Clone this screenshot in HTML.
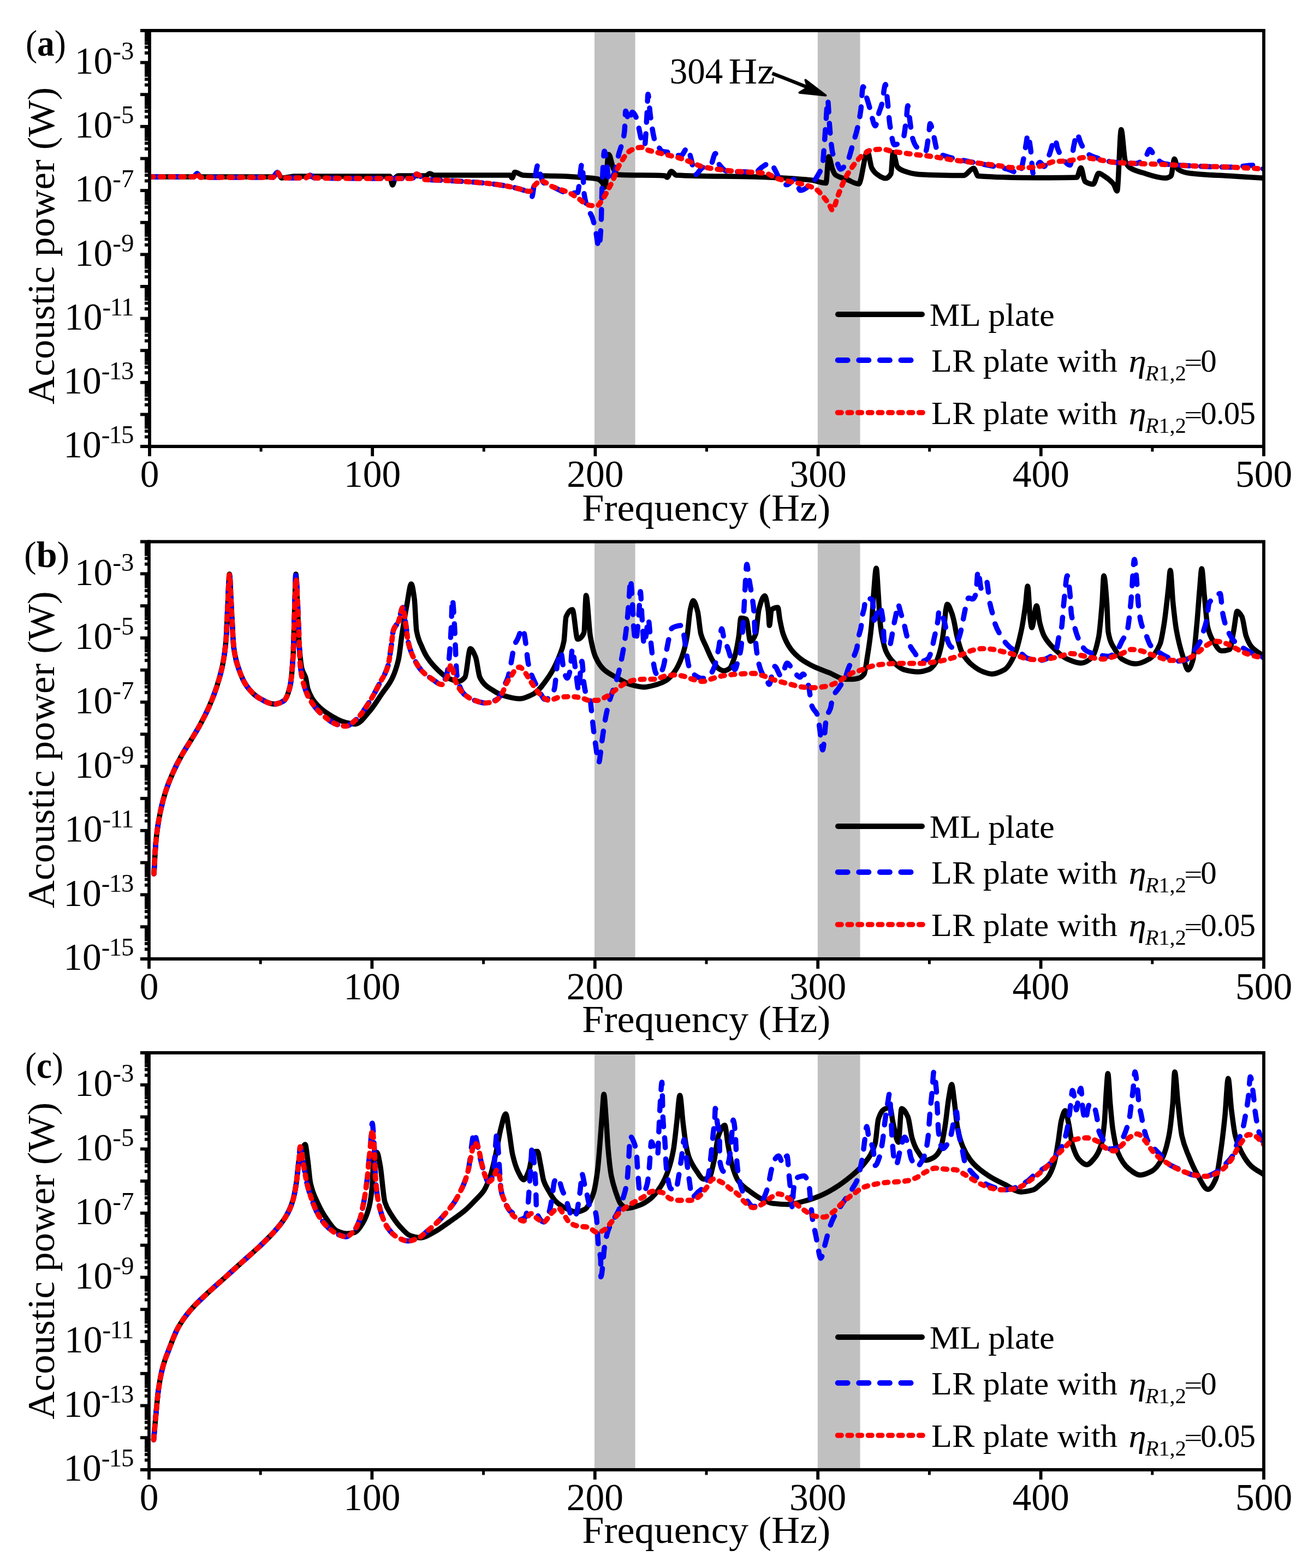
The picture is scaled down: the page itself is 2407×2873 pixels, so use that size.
<!DOCTYPE html><html><head><meta charset="utf-8"><title>Acoustic power</title><style>html,body{margin:0;padding:0;background:#fff;}body{width:2407px;height:2873px;overflow:hidden}svg{display:block}</style></head><body>
<svg width="2407" height="2873" viewBox="0 0 2407 2873" font-family="'Liberation Serif', serif">
<rect width="2407" height="2873" fill="#fff"/>
<defs><clipPath id="cpa"><rect x="274.0" y="56.0" width="2041.0" height="762.0"/></clipPath></defs>
<rect x="1089.0" y="56.0" width="74.6" height="762.0" fill="#c0c0c0"/>
<rect x="1497.8" y="56.0" width="77.8" height="762.0" fill="#c0c0c0"/>
<g clip-path="url(#cpa)" fill="none" stroke-linejoin="round">
<path d="M274.0,324.0 C301.0,324.0 328.0,324.0 355.0,324.0 C357.0,324.0 359.0,318.0 361.0,318.0 C363.0,318.0 365.0,324.0 367.0,324.0 C411.3,324.0 455.7,324.0 500.0,324.0 C502.7,324.0 505.3,316.0 508.0,316.0 C510.7,316.0 513.3,326.0 516.0,326.0 C519.0,326.0 522.0,325.4 525.0,325.0 C530.0,324.4 535.0,323.0 540.0,323.0 C598.0,323.0 656.0,323.0 714.0,323.0 C715.7,323.0 717.3,339.0 719.0,339.0 C720.7,339.0 722.3,327.8 724.0,326.0 C726.0,323.8 728.0,322.0 730.0,322.0 C746.7,322.0 763.3,322.0 780.0,322.0 C782.3,322.0 784.7,318.0 787.0,318.0 C789.7,318.0 792.3,321.0 795.0,321.0 C841.3,321.0 887.7,321.0 934.0,321.0 C935.3,321.0 936.7,326.0 938.0,326.0 C939.7,326.0 941.3,315.6 943.0,315.6 C948.0,315.6 953.0,320.7 958.0,321.0 C983.7,322.5 1009.3,322.0 1035.0,323.0 C1044.7,323.4 1054.3,324.2 1064.0,325.0 C1074.3,325.8 1084.7,325.9 1095.0,328.0 C1097.7,328.5 1100.3,331.1 1103.0,334.0 C1104.7,335.8 1106.3,343.0 1108.0,343.0 C1110.3,343.0 1112.7,283.0 1115.0,283.0 C1118.0,283.0 1121.0,304.7 1124.0,310.0 C1126.7,314.7 1129.3,319.8 1132.0,320.0 C1160.7,321.8 1189.3,320.2 1218.0,322.0 C1219.3,322.1 1220.7,325.0 1222.0,325.0 C1224.6,325.0 1227.1,314.0 1229.7,314.0 C1232.8,314.0 1235.9,320.8 1239.0,321.0 C1287.3,323.7 1335.7,322.5 1384.0,324.0 C1418.0,325.1 1452.0,326.5 1486.0,330.0 C1495.0,330.9 1504.0,335.5 1513.0,335.5 C1514.7,335.5 1516.3,287.0 1518.0,287.0 C1520.3,287.0 1522.7,304.3 1525.0,310.0 C1526.7,314.1 1528.3,318.7 1530.0,320.0 C1537.3,325.8 1544.7,326.1 1552.0,329.0 C1559.0,331.8 1566.0,337.0 1573.0,337.0 C1578.3,337.0 1583.7,277.6 1589.0,277.6 C1591.7,277.6 1594.3,303.0 1597.0,308.0 C1599.8,313.3 1602.7,316.4 1605.5,318.5 C1611.0,322.6 1616.5,326.7 1622.0,326.7 C1625.3,326.7 1628.7,324.2 1632.0,318.5 C1633.3,316.2 1634.7,279.6 1636.0,279.6 C1638.7,279.6 1641.3,303.0 1644.0,306.0 C1647.7,310.1 1651.3,311.7 1655.0,313.0 C1664.3,316.4 1673.7,319.0 1683.0,319.5 C1710.3,321.0 1737.7,321.6 1765.0,321.6 C1771.2,321.6 1777.4,308.3 1783.6,308.3 C1786.3,308.3 1789.0,322.4 1791.7,322.6 C1827.8,325.4 1863.9,325.7 1900.0,325.7 C1924.2,325.7 1948.3,325.6 1972.5,325.0 C1975.0,324.9 1977.5,307.5 1980.0,307.5 C1982.5,307.5 1985.0,330.8 1987.5,332.5 C1992.5,335.8 1997.5,337.5 2002.5,337.5 C2005.8,337.5 2009.2,317.5 2012.5,317.5 C2015.8,317.5 2019.2,320.4 2022.5,322.5 C2028.3,326.1 2034.2,330.1 2040.0,337.5 C2042.1,340.2 2044.2,350.0 2046.3,350.0 C2048.8,350.0 2051.3,237.5 2053.8,237.5 C2056.3,237.5 2058.8,288.8 2061.3,295.0 C2064.2,302.1 2067.1,305.6 2070.0,307.5 C2077.5,312.5 2085.0,314.0 2092.5,316.3 C2106.7,320.6 2120.8,326.3 2135.0,326.3 C2138.3,326.3 2141.7,325.0 2145.0,322.5 C2147.1,320.9 2149.2,291.3 2151.3,291.3 C2153.4,291.3 2155.4,308.5 2157.5,310.0 C2165.0,315.3 2172.5,316.6 2180.0,317.5 C2205.0,320.7 2230.0,320.9 2255.0,322.5 C2275.0,323.8 2295.0,325.0 2315.0,326.3" stroke="#000" stroke-width="9.5" stroke-linecap="round"/>
<path d="M274.0,324.0 C301.0,324.0 328.0,324.0 355.0,324.0 C357.0,324.0 359.0,318.0 361.0,318.0 C363.0,318.0 365.0,325.0 367.0,325.0 C411.3,325.0 455.7,325.0 500.0,325.0 C502.7,325.0 505.3,316.0 508.0,316.0 C510.7,316.0 513.3,326.0 516.0,326.0 C530.7,326.0 545.3,326.0 560.0,326.0 C562.7,326.0 565.3,321.0 568.0,321.0 C570.7,321.0 573.3,325.9 576.0,326.0 C617.3,326.9 658.7,327.0 700.0,327.0 C718.3,327.0 736.7,327.0 755.0,327.0 C757.7,327.0 760.3,319.0 763.0,319.0 C768.3,319.0 773.7,328.6 779.0,329.0 C787.0,329.7 795.0,329.6 803.0,330.0 C825.7,331.1 848.3,332.2 871.0,334.0 C887.3,335.3 903.7,337.0 920.0,339.5 C931.2,341.2 942.5,343.4 953.7,346.7 C957.8,347.9 961.9,349.1 966.0,351.6 C968.7,353.3 971.4,361.0 974.1,361.0 C976.2,361.0 978.2,334.6 980.3,324.2 C982.0,315.6 983.7,301.7 985.4,301.7 C986.9,301.7 988.5,314.9 990.0,320.0 C991.7,325.5 993.3,332.5 995.0,334.0 C1000.3,338.9 1005.7,339.3 1011.0,341.6 C1021.9,346.2 1032.8,353.9 1043.7,353.9 C1048.5,353.9 1053.2,353.6 1058.0,352.9 C1060.7,352.5 1063.5,299.6 1066.2,299.6 C1067.6,299.6 1068.9,348.2 1070.3,357.0 C1072.4,370.2 1074.4,375.9 1076.5,381.5 C1079.2,388.9 1082.0,390.7 1084.7,397.9 C1086.7,403.3 1088.8,411.6 1090.8,420.4 C1092.9,429.4 1094.9,453.1 1097.0,453.1 C1098.3,453.1 1099.7,436.1 1101.0,414.2 C1101.7,403.2 1102.3,355.6 1103.0,340.6 C1104.4,309.0 1105.8,277.1 1107.2,277.1 C1108.6,277.1 1109.9,289.0 1111.3,297.6 C1112.7,306.2 1114.0,332.4 1115.4,332.4 C1118.8,332.4 1122.2,324.1 1125.6,316.0 C1128.3,309.5 1131.1,291.3 1133.8,281.2 C1135.9,273.6 1137.9,269.1 1140.0,260.7 C1141.3,255.3 1142.7,251.7 1144.0,240.3 C1144.7,234.6 1145.3,203.4 1146.0,203.4 C1148.1,203.4 1150.1,221.9 1152.2,221.9 C1154.3,221.9 1156.3,205.5 1158.4,205.5 C1161.1,205.5 1163.8,211.3 1166.5,217.8 C1167.9,221.1 1169.2,230.1 1170.6,236.2 C1172.0,242.3 1173.3,250.7 1174.7,254.6 C1176.7,260.4 1178.8,266.9 1180.8,266.9 C1182.2,266.9 1183.6,234.1 1185.0,211.6 C1185.7,200.9 1186.3,172.7 1187.0,172.7 C1188.4,172.7 1189.7,199.3 1191.1,209.6 C1193.1,224.9 1195.2,238.7 1197.2,248.5 C1198.6,255.1 1199.9,262.5 1201.3,264.8 C1203.4,268.2 1205.4,268.7 1207.5,271.0 C1209.1,272.8 1210.7,276.6 1212.3,277.1 C1217.1,278.5 1221.8,278.3 1226.6,279.2 C1233.4,280.5 1240.3,285.3 1247.1,285.3 C1251.2,285.3 1255.3,271.0 1259.4,271.0 C1261.4,271.0 1263.5,282.6 1265.5,289.4 C1268.2,298.5 1271.0,320.1 1273.7,320.1 C1277.8,320.1 1281.9,310.1 1286.0,307.8 C1291.4,304.8 1296.9,305.6 1302.3,301.7 C1305.0,299.8 1307.8,281.2 1310.5,281.2 C1312.9,281.2 1315.3,298.5 1317.7,301.7 C1322.8,308.6 1327.9,313.8 1333.0,314.0 C1350.1,314.8 1367.1,315.0 1384.2,315.0 C1388.3,315.0 1392.4,308.3 1396.5,305.8 C1401.3,302.9 1406.0,298.6 1410.8,298.6 C1414.2,298.6 1417.6,308.1 1421.0,314.0 C1423.7,318.7 1426.5,327.5 1429.2,330.3 C1433.3,334.5 1437.4,338.5 1441.5,338.5 C1446.3,338.5 1451.0,328.3 1455.8,328.3 C1459.2,328.3 1462.7,348.8 1466.1,348.8 C1472.9,348.8 1479.7,342.3 1486.5,336.5 C1490.6,333.0 1494.7,327.4 1498.8,320.1 C1501.5,315.2 1504.3,312.1 1507.0,299.6 C1508.0,294.9 1509.1,275.9 1510.1,262.8 C1511.1,250.1 1512.1,235.0 1513.1,221.9 C1514.1,208.4 1515.2,183.0 1516.2,183.0 C1517.2,183.0 1518.3,213.2 1519.3,226.0 C1520.3,238.8 1521.4,252.1 1522.4,260.8 C1523.4,269.3 1524.4,277.9 1525.4,281.2 C1527.5,288.0 1529.5,289.4 1531.6,293.5 C1534.3,298.9 1537.0,309.9 1539.7,309.9 C1543.9,309.9 1548.1,303.0 1552.3,296.0 C1555.7,290.3 1559.1,274.7 1562.5,263.3 C1565.2,254.1 1568.0,246.3 1570.7,234.6 C1572.7,225.9 1574.8,216.6 1576.8,201.9 C1578.2,192.0 1579.5,158.9 1580.9,158.9 C1583.0,158.9 1585.0,170.8 1587.1,177.3 C1589.1,183.7 1591.2,191.1 1593.2,197.8 C1596.6,209.0 1600.0,230.5 1603.4,230.5 C1605.5,230.5 1607.5,214.8 1609.6,208.0 C1611.6,201.3 1613.7,197.6 1615.7,189.6 C1617.8,181.5 1619.8,154.8 1621.9,154.8 C1623.3,154.8 1624.6,175.4 1626.0,187.5 C1627.4,199.6 1628.7,219.6 1630.1,228.5 C1632.8,246.1 1635.5,265.3 1638.2,265.3 C1643.7,265.3 1649.1,261.4 1654.6,253.0 C1656.7,249.8 1658.7,228.4 1660.8,212.1 C1661.5,206.8 1662.1,193.7 1662.8,193.7 C1664.2,193.7 1665.5,212.8 1666.9,222.3 C1668.3,231.8 1669.6,246.1 1671.0,251.0 C1673.7,260.9 1676.5,267.0 1679.2,269.4 C1684.6,274.2 1690.1,277.6 1695.5,277.6 C1697.6,277.6 1699.6,257.0 1701.7,242.8 C1702.4,238.2 1703.0,226.4 1703.7,226.4 C1705.8,226.4 1707.8,239.5 1709.9,246.9 C1712.6,256.7 1715.4,277.2 1718.1,279.6 C1723.5,284.3 1729.0,285.1 1734.4,286.8 C1751.5,292.1 1768.5,294.5 1785.6,298.1 C1806.1,302.4 1826.5,304.9 1847.0,310.3 C1853.8,312.1 1860.7,317.5 1867.5,317.5 C1870.2,317.5 1872.9,300.4 1875.6,287.8 C1877.0,281.4 1878.3,270.9 1879.7,263.3 C1880.7,257.5 1881.8,246.9 1882.8,246.9 C1884.5,246.9 1886.2,262.0 1887.9,273.5 C1889.4,283.9 1891.0,317.5 1892.5,317.5 C1896.7,317.5 1900.8,297.5 1905.0,297.5 C1907.5,297.5 1910.0,305.0 1912.5,305.0 C1915.8,305.0 1919.2,290.8 1922.5,282.5 C1925.8,274.2 1929.2,255.0 1932.5,255.0 C1934.2,255.0 1935.8,268.2 1937.5,272.5 C1940.0,279.0 1942.5,284.0 1945.0,287.5 C1950.0,294.4 1955.0,302.5 1960.0,302.5 C1962.5,302.5 1965.0,276.0 1967.5,265.0 C1969.2,257.6 1970.8,245.0 1972.5,245.0 C1975.0,245.0 1977.5,257.5 1980.0,262.5 C1983.3,269.2 1986.7,277.3 1990.0,280.0 C1995.8,284.8 2001.7,286.8 2007.5,288.8 C2019.2,292.8 2030.8,296.5 2042.5,297.5 C2055.0,298.6 2067.5,299.5 2080.0,299.5 C2085.8,299.5 2091.7,295.2 2097.5,290.0 C2100.4,287.4 2103.4,273.8 2106.3,273.8 C2109.2,273.8 2112.1,283.3 2115.0,286.3 C2120.8,292.4 2126.7,299.0 2132.5,300.0 C2148.3,302.6 2164.2,303.0 2180.0,303.8 C2205.0,305.0 2230.0,306.3 2255.0,306.3 C2270.0,306.3 2285.0,302.5 2300.0,302.5 C2305.0,302.5 2310.0,307.5 2315.0,310.0" stroke="#0000ff" stroke-width="9.5" stroke-linecap="round" stroke-dasharray="18 20.6"/>
<path d="M274.0,324.0 C301.0,324.0 328.0,324.0 355.0,324.0 C357.0,324.0 359.0,318.0 361.0,318.0 C363.0,318.0 365.0,325.0 367.0,325.0 C411.3,325.0 455.7,325.0 500.0,325.0 C502.7,325.0 505.3,316.0 508.0,316.0 C510.7,316.0 513.3,326.0 516.0,326.0 C530.7,326.0 545.3,326.0 560.0,326.0 C562.7,326.0 565.3,321.0 568.0,321.0 C570.7,321.0 573.3,325.9 576.0,326.0 C617.3,326.9 658.7,327.0 700.0,327.0 C718.3,327.0 736.7,327.0 755.0,327.0 C757.7,327.0 760.3,319.0 763.0,319.0 C768.3,319.0 773.7,328.6 779.0,329.0 C787.0,329.7 795.0,329.6 803.0,330.0 C825.7,331.1 848.3,332.2 871.0,334.0 C887.3,335.3 903.7,337.0 920.0,339.5 C931.2,341.2 942.5,344.1 953.7,346.7 C959.1,348.0 964.6,350.8 970.0,350.8 C973.4,350.8 976.9,341.5 980.3,338.5 C983.7,335.5 987.1,331.4 990.5,331.4 C997.3,331.4 1004.2,338.6 1011.0,341.6 C1021.9,346.3 1032.8,348.6 1043.7,353.9 C1049.2,356.5 1054.6,360.5 1060.1,364.1 C1065.6,367.7 1071.0,374.3 1076.5,375.4 C1082.0,376.5 1087.4,377.4 1092.9,377.4 C1097.0,377.4 1101.0,368.9 1105.1,363.1 C1108.5,358.2 1112.0,351.2 1115.4,344.7 C1118.1,339.5 1120.9,334.4 1123.6,328.3 C1126.3,322.3 1129.0,313.4 1131.7,307.8 C1134.4,302.2 1137.2,297.7 1139.9,293.5 C1143.3,288.2 1146.8,281.8 1150.2,279.2 C1155.6,275.0 1161.1,272.0 1166.5,271.0 C1169.2,270.5 1172.0,270.0 1174.7,270.0 C1178.8,270.0 1182.9,273.8 1187.0,275.1 C1192.5,276.8 1197.9,277.8 1203.4,279.2 C1208.8,280.6 1214.3,282.0 1219.7,283.3 C1226.8,285.0 1233.9,286.4 1241.0,288.4 C1247.8,290.3 1254.6,293.0 1261.4,295.5 C1270.3,298.7 1279.1,303.7 1288.0,305.8 C1296.2,307.7 1304.4,308.8 1312.6,309.9 C1324.2,311.5 1335.8,313.1 1347.4,314.0 C1359.7,314.9 1371.9,315.1 1384.2,316.0 C1391.0,316.5 1397.9,316.9 1404.7,318.1 C1410.1,319.0 1415.6,324.3 1421.0,326.2 C1429.2,329.0 1437.4,330.5 1445.6,332.4 C1455.1,334.6 1464.7,335.8 1474.2,338.5 C1481.0,340.4 1487.9,342.7 1494.7,346.7 C1498.8,349.1 1502.9,354.3 1507.0,359.0 C1511.1,363.7 1515.2,369.0 1519.3,375.4 C1521.0,378.1 1522.7,384.6 1524.4,384.6 C1528.1,384.6 1531.9,366.3 1535.6,357.0 C1538.3,350.2 1541.1,342.6 1543.8,336.5 C1546.5,330.4 1549.3,324.8 1552.0,320.1 C1554.7,315.5 1557.3,311.6 1560.0,307.8 C1562.9,303.6 1565.8,299.4 1568.7,296.0 C1572.8,291.3 1576.8,286.7 1580.9,283.7 C1586.4,279.7 1591.8,275.1 1597.3,274.5 C1603.4,273.9 1609.6,273.5 1615.7,273.5 C1622.5,273.5 1629.4,276.5 1636.2,277.6 C1648.5,279.6 1660.7,281.1 1673.0,282.7 C1684.6,284.2 1696.2,285.2 1707.8,286.8 C1720.1,288.5 1732.4,291.1 1744.7,292.9 C1758.3,294.9 1772.0,296.4 1785.6,298.1 C1799.2,299.8 1812.9,301.5 1826.5,303.2 C1837.4,304.6 1848.4,307.3 1859.3,307.3 C1865.4,307.3 1871.6,307.3 1877.7,307.3 C1883.5,307.3 1889.2,306.8 1895.0,306.3 C1900.8,305.8 1906.7,304.1 1912.5,302.5 C1918.3,300.9 1924.2,297.0 1930.0,296.3 C1936.7,295.6 1943.3,295.5 1950.0,295.0 C1954.2,294.7 1958.3,294.3 1962.5,293.8 C1970.0,292.8 1977.5,288.8 1985.0,288.8 C1991.7,288.8 1998.3,290.4 2005.0,291.3 C2017.5,293.1 2030.0,296.5 2042.5,297.5 C2055.0,298.5 2067.5,299.0 2080.0,299.5 C2096.7,300.2 2113.3,300.6 2130.0,301.3 C2146.7,302.0 2163.3,303.1 2180.0,303.8 C2205.0,304.8 2230.0,305.3 2255.0,306.3 C2275.0,307.1 2295.0,308.4 2315.0,309.5" stroke="#ff0000" stroke-width="9.6" stroke-linecap="round" stroke-dasharray="6.9 12"/>
</g>
<g stroke="#000" fill="none" stroke-width="5.8">
<line x1="257" y1="56.0" x2="2317.9" y2="56.0"/>
<line x1="2315.0" y1="56.0" x2="2315.0" y2="836.0"/>
<line x1="257" y1="818.0" x2="2315.0" y2="818.0"/>
<line x1="274.0" y1="53.1" x2="274.0" y2="836.0"/>
<line x1="257" y1="759.4" x2="274.0" y2="759.4"/>
<line x1="257" y1="700.8" x2="274.0" y2="700.8"/>
<line x1="257" y1="642.2" x2="274.0" y2="642.2"/>
<line x1="257" y1="583.5" x2="274.0" y2="583.5"/>
<line x1="257" y1="524.9" x2="274.0" y2="524.9"/>
<line x1="257" y1="466.3" x2="274.0" y2="466.3"/>
<line x1="257" y1="407.7" x2="274.0" y2="407.7"/>
<line x1="257" y1="349.1" x2="274.0" y2="349.1"/>
<line x1="257" y1="290.5" x2="274.0" y2="290.5"/>
<line x1="257" y1="231.8" x2="274.0" y2="231.8"/>
<line x1="257" y1="173.2" x2="274.0" y2="173.2"/>
<line x1="257" y1="114.6" x2="274.0" y2="114.6"/>
<line x1="265" y1="800.4" x2="274.0" y2="800.4"/>
<line x1="265" y1="790.0" x2="274.0" y2="790.0"/>
<line x1="265" y1="782.7" x2="274.0" y2="782.7"/>
<line x1="265" y1="777.0" x2="274.0" y2="777.0"/>
<line x1="265" y1="772.4" x2="274.0" y2="772.4"/>
<line x1="265" y1="768.5" x2="274.0" y2="768.5"/>
<line x1="265" y1="765.1" x2="274.0" y2="765.1"/>
<line x1="265" y1="762.1" x2="274.0" y2="762.1"/>
<line x1="265" y1="741.7" x2="274.0" y2="741.7"/>
<line x1="265" y1="731.4" x2="274.0" y2="731.4"/>
<line x1="265" y1="724.1" x2="274.0" y2="724.1"/>
<line x1="265" y1="718.4" x2="274.0" y2="718.4"/>
<line x1="265" y1="713.8" x2="274.0" y2="713.8"/>
<line x1="265" y1="709.8" x2="274.0" y2="709.8"/>
<line x1="265" y1="706.4" x2="274.0" y2="706.4"/>
<line x1="265" y1="703.5" x2="274.0" y2="703.5"/>
<line x1="265" y1="683.1" x2="274.0" y2="683.1"/>
<line x1="265" y1="672.8" x2="274.0" y2="672.8"/>
<line x1="265" y1="665.5" x2="274.0" y2="665.5"/>
<line x1="265" y1="659.8" x2="274.0" y2="659.8"/>
<line x1="265" y1="655.2" x2="274.0" y2="655.2"/>
<line x1="265" y1="651.2" x2="274.0" y2="651.2"/>
<line x1="265" y1="647.8" x2="274.0" y2="647.8"/>
<line x1="265" y1="644.8" x2="274.0" y2="644.8"/>
<line x1="265" y1="624.5" x2="274.0" y2="624.5"/>
<line x1="265" y1="614.2" x2="274.0" y2="614.2"/>
<line x1="265" y1="606.9" x2="274.0" y2="606.9"/>
<line x1="265" y1="601.2" x2="274.0" y2="601.2"/>
<line x1="265" y1="596.5" x2="274.0" y2="596.5"/>
<line x1="265" y1="592.6" x2="274.0" y2="592.6"/>
<line x1="265" y1="589.2" x2="274.0" y2="589.2"/>
<line x1="265" y1="586.2" x2="274.0" y2="586.2"/>
<line x1="265" y1="565.9" x2="274.0" y2="565.9"/>
<line x1="265" y1="555.6" x2="274.0" y2="555.6"/>
<line x1="265" y1="548.2" x2="274.0" y2="548.2"/>
<line x1="265" y1="542.6" x2="274.0" y2="542.6"/>
<line x1="265" y1="537.9" x2="274.0" y2="537.9"/>
<line x1="265" y1="534.0" x2="274.0" y2="534.0"/>
<line x1="265" y1="530.6" x2="274.0" y2="530.6"/>
<line x1="265" y1="527.6" x2="274.0" y2="527.6"/>
<line x1="265" y1="507.3" x2="274.0" y2="507.3"/>
<line x1="265" y1="497.0" x2="274.0" y2="497.0"/>
<line x1="265" y1="489.6" x2="274.0" y2="489.6"/>
<line x1="265" y1="484.0" x2="274.0" y2="484.0"/>
<line x1="265" y1="479.3" x2="274.0" y2="479.3"/>
<line x1="265" y1="475.4" x2="274.0" y2="475.4"/>
<line x1="265" y1="472.0" x2="274.0" y2="472.0"/>
<line x1="265" y1="469.0" x2="274.0" y2="469.0"/>
<line x1="265" y1="448.7" x2="274.0" y2="448.7"/>
<line x1="265" y1="438.3" x2="274.0" y2="438.3"/>
<line x1="265" y1="431.0" x2="274.0" y2="431.0"/>
<line x1="265" y1="425.3" x2="274.0" y2="425.3"/>
<line x1="265" y1="420.7" x2="274.0" y2="420.7"/>
<line x1="265" y1="416.8" x2="274.0" y2="416.8"/>
<line x1="265" y1="413.4" x2="274.0" y2="413.4"/>
<line x1="265" y1="410.4" x2="274.0" y2="410.4"/>
<line x1="265" y1="390.0" x2="274.0" y2="390.0"/>
<line x1="265" y1="379.7" x2="274.0" y2="379.7"/>
<line x1="265" y1="372.4" x2="274.0" y2="372.4"/>
<line x1="265" y1="366.7" x2="274.0" y2="366.7"/>
<line x1="265" y1="362.1" x2="274.0" y2="362.1"/>
<line x1="265" y1="358.2" x2="274.0" y2="358.2"/>
<line x1="265" y1="354.8" x2="274.0" y2="354.8"/>
<line x1="265" y1="351.8" x2="274.0" y2="351.8"/>
<line x1="265" y1="331.4" x2="274.0" y2="331.4"/>
<line x1="265" y1="321.1" x2="274.0" y2="321.1"/>
<line x1="265" y1="313.8" x2="274.0" y2="313.8"/>
<line x1="265" y1="308.1" x2="274.0" y2="308.1"/>
<line x1="265" y1="303.5" x2="274.0" y2="303.5"/>
<line x1="265" y1="299.5" x2="274.0" y2="299.5"/>
<line x1="265" y1="296.1" x2="274.0" y2="296.1"/>
<line x1="265" y1="293.1" x2="274.0" y2="293.1"/>
<line x1="265" y1="272.8" x2="274.0" y2="272.8"/>
<line x1="265" y1="262.5" x2="274.0" y2="262.5"/>
<line x1="265" y1="255.2" x2="274.0" y2="255.2"/>
<line x1="265" y1="249.5" x2="274.0" y2="249.5"/>
<line x1="265" y1="244.8" x2="274.0" y2="244.8"/>
<line x1="265" y1="240.9" x2="274.0" y2="240.9"/>
<line x1="265" y1="237.5" x2="274.0" y2="237.5"/>
<line x1="265" y1="234.5" x2="274.0" y2="234.5"/>
<line x1="265" y1="214.2" x2="274.0" y2="214.2"/>
<line x1="265" y1="203.9" x2="274.0" y2="203.9"/>
<line x1="265" y1="196.6" x2="274.0" y2="196.6"/>
<line x1="265" y1="190.9" x2="274.0" y2="190.9"/>
<line x1="265" y1="186.2" x2="274.0" y2="186.2"/>
<line x1="265" y1="182.3" x2="274.0" y2="182.3"/>
<line x1="265" y1="178.9" x2="274.0" y2="178.9"/>
<line x1="265" y1="175.9" x2="274.0" y2="175.9"/>
<line x1="265" y1="155.6" x2="274.0" y2="155.6"/>
<line x1="265" y1="145.3" x2="274.0" y2="145.3"/>
<line x1="265" y1="137.9" x2="274.0" y2="137.9"/>
<line x1="265" y1="132.3" x2="274.0" y2="132.3"/>
<line x1="265" y1="127.6" x2="274.0" y2="127.6"/>
<line x1="265" y1="123.7" x2="274.0" y2="123.7"/>
<line x1="265" y1="120.3" x2="274.0" y2="120.3"/>
<line x1="265" y1="117.3" x2="274.0" y2="117.3"/>
<line x1="265" y1="97.0" x2="274.0" y2="97.0"/>
<line x1="265" y1="86.6" x2="274.0" y2="86.6"/>
<line x1="265" y1="79.3" x2="274.0" y2="79.3"/>
<line x1="265" y1="73.6" x2="274.0" y2="73.6"/>
<line x1="265" y1="69.0" x2="274.0" y2="69.0"/>
<line x1="265" y1="65.1" x2="274.0" y2="65.1"/>
<line x1="265" y1="61.7" x2="274.0" y2="61.7"/>
<line x1="265" y1="58.7" x2="274.0" y2="58.7"/>
<line x1="682.2" y1="818.0" x2="682.2" y2="836.0"/>
<line x1="1090.4" y1="818.0" x2="1090.4" y2="836.0"/>
<line x1="1498.6" y1="818.0" x2="1498.6" y2="836.0"/>
<line x1="1906.8" y1="818.0" x2="1906.8" y2="836.0"/>
<line x1="478.1" y1="818.0" x2="478.1" y2="827.5" stroke-width="5"/>
<line x1="886.3" y1="818.0" x2="886.3" y2="827.5" stroke-width="5"/>
<line x1="1294.5" y1="818.0" x2="1294.5" y2="827.5" stroke-width="5"/>
<line x1="1702.7" y1="818.0" x2="1702.7" y2="827.5" stroke-width="5"/>
<line x1="2110.9" y1="818.0" x2="2110.9" y2="827.5" stroke-width="5"/>
</g>
<text x="245.5" y="134.9" text-anchor="end" font-size="69.5">10<tspan font-size="47" dy="-26">-3</tspan></text>
<text x="245.5" y="252.1" text-anchor="end" font-size="69.5">10<tspan font-size="47" dy="-26">-5</tspan></text>
<text x="245.5" y="369.4" text-anchor="end" font-size="69.5">10<tspan font-size="47" dy="-26">-7</tspan></text>
<text x="245.5" y="486.6" text-anchor="end" font-size="69.5">10<tspan font-size="47" dy="-26">-9</tspan></text>
<text x="245.5" y="603.8" text-anchor="end" font-size="69.5">10<tspan font-size="47" dy="-26">-</tspan><tspan font-size="47" dx="-1.8">1</tspan><tspan font-size="47" dx="-1.2">1</tspan></text>
<text x="245.5" y="721.1" text-anchor="end" font-size="69.5">10<tspan font-size="47" dy="-26">-</tspan><tspan font-size="47" dx="-1.8">1</tspan><tspan font-size="47" dx="-1.2">3</tspan></text>
<text x="245.5" y="838.3" text-anchor="end" font-size="69.5">10<tspan font-size="47" dy="-26">-</tspan><tspan font-size="47" dx="-1.8">1</tspan><tspan font-size="47" dx="-1.2">5</tspan></text>
<text x="274.0" y="892.2" text-anchor="middle" font-size="69.5">0</text>
<text x="682.2" y="892.2" text-anchor="middle" font-size="69.5">100</text>
<text x="1090.4" y="892.2" text-anchor="middle" font-size="69.5">200</text>
<text x="1498.6" y="892.2" text-anchor="middle" font-size="69.5">300</text>
<text x="1906.8" y="892.2" text-anchor="middle" font-size="69.5">400</text>
<text x="2315.0" y="892.2" text-anchor="middle" font-size="69.5">500</text>
<text x="1293.8" y="954.0" text-anchor="middle" font-size="69" textLength="455" lengthAdjust="spacingAndGlyphs">Frequency (Hz)</text>
<text transform="translate(98.5,450.4) rotate(-90)" text-anchor="middle" font-size="69" textLength="581" lengthAdjust="spacingAndGlyphs">Acoustic power (W)</text>
<text x="46.90" y="102.2" font-size="67" transform="translate(46.90,0) scale(0.948,1) translate(-46.90,0)">(<tspan font-weight="bold">a</tspan>)</text>
<line x1="1535" y1="576.0" x2="1689" y2="576.0" stroke="#000" stroke-width="10" stroke-linecap="round"/>
<line x1="1534.7" y1="660.0" x2="1670" y2="660.0" stroke="#0000ff" stroke-width="10" stroke-linecap="round" stroke-dasharray="18 20.6"/>
<line x1="1534.5" y1="756.0" x2="1690" y2="756.0" stroke="#ff0000" stroke-width="9.6" stroke-linecap="round" stroke-dasharray="6.6 12.05"/>
<text x="1702.8" y="597.3" font-size="59" transform="translate(1702.8,0) scale(1.0623,1) translate(-1702.8,0)">ML plate</text>
<text x="1706.1" y="681.4" font-size="59" transform="translate(1706.1,0) scale(1.0510,1) translate(-1706.1,0)">LR plate with</text>
<text x="2067.5" y="681.4" font-size="59" font-style="italic" transform="translate(2067.5,0) scale(1.1,1) translate(-2067.5,0)">&#951;</text>
<text x="2098.0" y="696.8" font-size="39" transform="translate(2098.0,0) scale(1.0300,1) translate(-2098.0,0)"><tspan font-style="italic">R</tspan>1,2</text>
<text x="2169.2" y="681.4" font-size="59" transform="translate(0,672.3) scale(1,0.733) translate(0,-672.3)">=</text>
<text x="2199.2" y="681.4" font-size="59" letter-spacing="-0.8">0</text>
<text x="1706.1" y="777.4" font-size="59" transform="translate(1706.1,0) scale(1.0510,1) translate(-1706.1,0)">LR plate with</text>
<text x="2067.5" y="777.4" font-size="59" font-style="italic" transform="translate(2067.5,0) scale(1.1,1) translate(-2067.5,0)">&#951;</text>
<text x="2098.0" y="792.8" font-size="39" transform="translate(2098.0,0) scale(1.0300,1) translate(-2098.0,0)"><tspan font-style="italic">R</tspan>1,2</text>
<text x="2169.2" y="777.4" font-size="59" transform="translate(0,768.3) scale(1,0.733) translate(0,-768.3)">=</text>
<text x="2199.2" y="777.4" font-size="59" letter-spacing="-0.8">0.05</text>
<defs><clipPath id="cpb"><rect x="273.0" y="992.5" width="2042.0" height="764.5"/></clipPath></defs>
<rect x="1089.0" y="992.5" width="74.6" height="764.5" fill="#c0c0c0"/>
<rect x="1497.8" y="992.5" width="77.8" height="764.5" fill="#c0c0c0"/>
<g clip-path="url(#cpb)" fill="none" stroke-linejoin="round">
<path d="M282.0,1601.0 C283.1,1582.1 284.3,1556.4 285.4,1544.3 C287.3,1523.9 289.2,1512.0 291.1,1501.4 C294.9,1480.0 298.8,1465.3 302.6,1452.9 C307.4,1437.4 312.1,1426.5 316.9,1415.7 C321.6,1405.0 326.4,1395.7 331.1,1387.1 C336.8,1376.6 342.6,1368.1 348.3,1358.6 C354.0,1349.1 359.7,1340.4 365.4,1330.0 C371.1,1319.6 376.9,1308.7 382.6,1295.7 C387.4,1284.9 392.1,1273.3 396.9,1258.6 C400.7,1246.8 404.5,1235.5 408.3,1215.7 C410.2,1205.8 412.1,1194.6 414.0,1172.9 C415.0,1161.8 415.9,1134.3 416.9,1115.7 C418.0,1093.9 419.2,1052.0 420.3,1052.0 C421.5,1052.0 422.8,1094.8 424.0,1115.7 C425.4,1139.9 426.9,1176.6 428.3,1187.1 C431.2,1208.1 434.0,1215.7 436.9,1224.3 C441.6,1238.5 446.4,1249.0 451.1,1255.7 C458.7,1266.5 466.4,1274.2 474.0,1278.6 C483.5,1284.1 493.1,1290.0 502.6,1290.0 C508.3,1290.0 514.0,1287.8 519.7,1284.3 C523.5,1282.0 527.3,1273.6 531.1,1258.6 C533.0,1251.0 535.0,1232.1 536.9,1201.4 C537.8,1186.6 538.8,1142.8 539.7,1115.7 C540.5,1093.4 541.2,1052.0 542.0,1052.0 C543.0,1052.0 544.0,1088.9 545.0,1110.0 C546.0,1131.1 547.0,1166.5 548.0,1180.0 C549.7,1202.5 551.3,1218.4 553.0,1225.0 C555.3,1234.2 557.7,1234.1 560.0,1242.0 C561.3,1246.4 562.6,1257.9 563.9,1261.9 C567.8,1273.9 571.6,1280.0 575.5,1285.1 C583.2,1295.3 591.0,1301.3 598.7,1306.4 C610.3,1314.1 621.8,1321.1 633.4,1323.8 C639.2,1325.2 645.0,1326.7 650.8,1326.7 C659.2,1326.7 667.6,1313.6 676.0,1304.4 C683.7,1296.0 691.5,1282.9 699.2,1271.6 C705.6,1262.2 712.1,1255.8 718.5,1242.6 C722.4,1234.6 726.2,1225.1 730.1,1207.8 C732.0,1199.2 734.0,1178.2 735.9,1165.3 C739.1,1143.9 742.3,1124.3 745.5,1107.3 C748.1,1093.5 750.7,1070.0 753.3,1070.0 C755.2,1070.0 757.2,1083.2 759.1,1097.6 C760.4,1107.3 761.7,1148.4 763.0,1155.6 C766.2,1173.3 769.4,1176.9 772.6,1184.6 C775.8,1192.4 779.1,1199.0 782.3,1204.0 C788.7,1213.9 795.2,1220.9 801.6,1227.1 C808.0,1233.3 814.5,1239.8 820.9,1242.6 C827.3,1245.4 833.8,1248.4 840.2,1248.4 C844.1,1248.4 847.9,1245.4 851.8,1240.7 C855.0,1236.8 858.3,1188.5 861.5,1188.5 C864.7,1188.5 868.0,1196.1 871.2,1204.0 C873.8,1210.3 876.3,1235.0 878.9,1240.7 C882.6,1248.9 886.3,1252.6 890.0,1256.0 C893.3,1259.1 896.7,1260.9 900.0,1263.0 C906.3,1267.0 912.7,1271.5 919.0,1273.5 C929.9,1276.9 940.9,1280.3 951.8,1280.3 C960.2,1280.3 968.6,1276.0 977.0,1271.6 C986.7,1266.5 996.3,1253.0 1006.0,1238.7 C1012.4,1229.2 1018.9,1216.6 1025.3,1200.1 C1027.9,1193.5 1030.4,1188.9 1033.0,1175.0 C1034.3,1168.0 1035.6,1133.7 1036.9,1130.5 C1040.8,1121.1 1044.6,1117.0 1048.5,1117.0 C1051.7,1117.0 1054.9,1171.1 1058.1,1171.1 C1062.0,1171.1 1065.8,1168.1 1069.7,1159.5 C1071.0,1156.6 1072.3,1091.0 1073.6,1091.0 C1076.2,1091.0 1078.7,1150.6 1081.3,1165.3 C1084.5,1183.8 1087.8,1196.7 1091.0,1204.0 C1096.2,1215.6 1101.3,1222.4 1106.5,1227.1 C1114.9,1234.7 1123.2,1238.0 1131.6,1242.6 C1139.3,1246.9 1147.1,1252.0 1154.8,1254.2 C1163.2,1256.5 1171.5,1259.0 1179.9,1259.0 C1187.6,1259.0 1195.4,1256.4 1203.1,1254.2 C1208.7,1252.6 1214.4,1250.4 1220.0,1247.0 C1225.2,1243.9 1230.3,1238.1 1235.5,1231.0 C1240.0,1224.8 1244.5,1216.1 1249.0,1203.9 C1252.2,1195.1 1255.5,1183.2 1258.7,1165.3 C1260.6,1154.6 1262.6,1125.6 1264.5,1117.0 C1266.3,1109.0 1268.1,1100.5 1269.9,1100.5 C1272.6,1100.5 1275.3,1110.6 1278.0,1120.8 C1279.9,1128.1 1281.9,1154.2 1283.8,1161.4 C1287.0,1173.4 1290.2,1177.3 1293.4,1184.6 C1297.3,1193.4 1301.1,1203.3 1305.0,1209.7 C1308.9,1216.1 1312.7,1222.8 1316.6,1225.2 C1319.8,1227.2 1323.1,1229.1 1326.3,1229.1 C1329.5,1229.1 1332.8,1227.4 1336.0,1225.2 C1339.2,1223.0 1342.4,1213.8 1345.6,1203.9 C1348.2,1195.8 1350.8,1182.2 1353.4,1165.3 C1354.7,1157.1 1355.9,1132.4 1357.2,1132.4 C1360.4,1132.4 1363.7,1133.1 1366.9,1134.4 C1369.5,1135.5 1372.0,1175.0 1374.6,1175.0 C1377.8,1175.0 1381.1,1169.5 1384.3,1161.4 C1386.2,1156.5 1388.2,1124.4 1390.1,1117.0 C1393.6,1103.5 1397.2,1091.8 1400.7,1091.8 C1403.0,1091.8 1405.2,1104.6 1407.5,1120.8 C1408.1,1125.3 1408.8,1146.0 1409.4,1146.0 C1410.7,1146.0 1412.0,1118.0 1413.3,1117.0 C1417.2,1114.1 1421.0,1113.1 1424.9,1113.1 C1426.2,1113.1 1427.4,1129.8 1428.7,1136.3 C1430.6,1146.2 1432.6,1155.8 1434.5,1161.4 C1439.0,1174.4 1443.6,1182.3 1448.1,1188.5 C1454.5,1197.2 1461.0,1203.0 1467.4,1207.8 C1475.1,1213.5 1482.9,1217.6 1490.6,1221.3 C1500.3,1225.9 1509.9,1229.0 1519.6,1232.9 C1529.3,1236.8 1538.9,1244.5 1548.6,1244.5 C1552.9,1244.5 1557.3,1244.5 1561.6,1244.5 C1565.5,1244.5 1569.3,1243.7 1573.2,1242.6 C1576.4,1241.7 1579.7,1239.7 1582.9,1234.9 C1584.8,1232.1 1586.8,1216.0 1588.7,1204.0 C1591.3,1188.1 1593.8,1172.6 1596.4,1146.0 C1597.7,1132.5 1599.0,1103.5 1600.3,1088.0 C1601.9,1069.0 1603.5,1041.0 1605.1,1041.0 C1606.4,1041.0 1607.6,1069.9 1608.9,1088.0 C1609.9,1101.8 1610.8,1126.2 1611.8,1136.3 C1613.1,1149.9 1614.4,1158.6 1615.7,1165.3 C1618.3,1178.6 1620.8,1188.8 1623.4,1194.3 C1627.9,1204.1 1632.5,1209.3 1637.0,1213.6 C1643.4,1219.7 1649.9,1225.4 1656.3,1227.1 C1664.7,1229.3 1673.0,1231.0 1681.4,1231.0 C1687.9,1231.0 1694.3,1229.4 1700.8,1227.1 C1705.3,1225.5 1709.8,1220.6 1714.3,1213.6 C1717.5,1208.7 1720.7,1198.3 1723.9,1184.6 C1725.8,1176.3 1727.8,1161.8 1729.7,1146.0 C1730.7,1138.1 1731.6,1122.2 1732.6,1117.0 C1733.5,1112.3 1734.3,1107.3 1735.2,1107.3 C1737.9,1107.3 1740.6,1115.8 1743.3,1122.8 C1744.6,1126.1 1745.8,1131.1 1747.1,1136.3 C1749.0,1144.2 1751.0,1157.6 1752.9,1165.3 C1756.1,1178.1 1759.4,1190.3 1762.6,1196.2 C1769.0,1208.0 1775.5,1214.3 1781.9,1219.4 C1788.4,1224.6 1794.8,1228.7 1801.3,1231.0 C1806.4,1232.8 1811.6,1234.9 1816.7,1234.9 C1824.4,1234.9 1832.2,1231.4 1839.9,1227.1 C1846.3,1223.5 1852.8,1212.3 1859.2,1198.1 C1863.1,1189.6 1866.9,1173.7 1870.8,1155.6 C1873.4,1143.4 1876.0,1126.3 1878.6,1107.3 C1879.9,1097.8 1881.2,1074.0 1882.5,1074.0 C1884.1,1074.0 1885.7,1123.1 1887.3,1135.0 C1888.2,1141.7 1889.1,1150.0 1890.0,1150.0 C1892.9,1150.0 1895.9,1110.0 1898.8,1110.0 C1900.9,1110.0 1902.9,1134.5 1905.0,1142.5 C1907.5,1152.1 1910.0,1160.2 1912.5,1165.0 C1918.3,1176.1 1924.2,1181.7 1930.0,1187.5 C1938.3,1195.8 1946.7,1203.9 1955.0,1207.5 C1963.3,1211.1 1971.7,1215.0 1980.0,1215.0 C1986.7,1215.0 1993.3,1211.0 2000.0,1205.0 C2004.2,1201.2 2008.3,1187.9 2012.5,1167.5 C2014.6,1157.2 2016.7,1131.1 2018.8,1105.0 C2019.9,1091.7 2020.9,1055.0 2022.0,1055.0 C2023.8,1055.0 2025.7,1080.5 2027.5,1105.0 C2028.3,1116.1 2029.2,1152.8 2030.0,1157.5 C2034.2,1180.8 2038.3,1182.4 2042.5,1190.0 C2046.7,1197.6 2050.8,1205.0 2055.0,1207.5 C2063.3,1212.5 2071.7,1216.3 2080.0,1216.3 C2088.3,1216.3 2096.7,1212.3 2105.0,1207.5 C2111.7,1203.7 2118.3,1195.7 2125.0,1180.0 C2127.5,1174.1 2130.0,1158.1 2132.5,1142.5 C2135.0,1126.9 2137.5,1102.0 2140.0,1080.0 C2141.3,1068.9 2142.5,1045.0 2143.8,1045.0 C2145.5,1045.0 2147.1,1088.8 2148.8,1105.0 C2150.9,1125.1 2152.9,1143.5 2155.0,1155.0 C2159.2,1178.2 2163.3,1192.2 2167.5,1205.0 C2170.4,1214.0 2173.4,1227.5 2176.3,1227.5 C2179.2,1227.5 2182.1,1219.7 2185.0,1210.0 C2187.5,1201.6 2190.0,1168.9 2192.5,1142.5 C2194.2,1124.9 2195.8,1098.4 2197.5,1080.0 C2198.8,1066.0 2200.0,1042.0 2201.3,1042.0 C2203.0,1042.0 2204.6,1076.4 2206.3,1092.5 C2208.4,1112.5 2210.4,1141.5 2212.5,1150.0 C2215.8,1163.7 2219.2,1169.6 2222.5,1175.0 C2227.5,1183.2 2232.5,1192.5 2237.5,1192.5 C2242.5,1192.5 2247.5,1191.8 2252.5,1190.0 C2255.0,1189.1 2257.5,1167.7 2260.0,1155.0 C2262.1,1144.3 2264.2,1120.0 2266.3,1120.0 C2269.2,1120.0 2272.1,1124.6 2275.0,1130.0 C2277.5,1134.7 2280.0,1157.9 2282.5,1165.0 C2285.8,1174.5 2289.2,1181.1 2292.5,1185.0 C2300.0,1193.7 2307.5,1196.3 2315.0,1202.0" stroke="#000" stroke-width="9.5" stroke-linecap="round"/>
<path d="M282.0,1601.0 C283.1,1582.1 284.3,1556.4 285.4,1544.3 C287.3,1523.9 289.2,1512.0 291.1,1501.4 C294.9,1480.0 298.8,1465.3 302.6,1452.9 C307.4,1437.4 312.1,1426.5 316.9,1415.7 C321.6,1405.0 326.4,1395.7 331.1,1387.1 C336.8,1376.6 342.6,1368.1 348.3,1358.6 C354.0,1349.1 359.7,1340.4 365.4,1330.0 C371.1,1319.6 376.9,1308.7 382.6,1295.7 C387.4,1284.9 392.1,1273.3 396.9,1258.6 C400.7,1246.8 404.5,1235.5 408.3,1215.7 C410.2,1205.8 412.1,1194.6 414.0,1172.9 C415.0,1161.8 415.9,1134.3 416.9,1115.7 C418.0,1093.9 419.2,1052.0 420.3,1052.0 C421.5,1052.0 422.8,1094.8 424.0,1115.7 C425.4,1139.9 426.9,1176.6 428.3,1187.1 C431.2,1208.1 434.0,1215.7 436.9,1224.3 C441.6,1238.5 446.4,1249.0 451.1,1255.7 C458.7,1266.5 466.4,1274.2 474.0,1278.6 C483.5,1284.1 493.1,1290.0 502.6,1290.0 C508.3,1290.0 514.0,1287.8 519.7,1284.3 C523.5,1282.0 527.3,1273.6 531.1,1258.6 C533.0,1251.0 535.0,1232.1 536.9,1201.4 C537.8,1186.6 538.8,1143.2 539.7,1115.7 C540.5,1093.1 541.2,1050.0 542.0,1050.0 C543.6,1050.0 545.3,1108.0 546.9,1144.3 C547.8,1165.0 548.8,1207.0 549.7,1215.7 C553.0,1246.9 556.4,1254.6 559.7,1264.3 C563.0,1274.0 566.4,1279.9 569.7,1285.1 C576.1,1295.2 582.6,1302.7 589.0,1308.3 C598.7,1316.7 608.3,1324.9 618.0,1327.6 C623.1,1329.0 628.3,1330.5 633.4,1330.5 C639.9,1330.5 646.3,1323.6 652.8,1318.0 C660.5,1311.4 668.3,1299.0 676.0,1287.1 C682.4,1277.2 688.9,1264.9 695.3,1252.3 C700.5,1242.2 705.6,1236.9 710.8,1219.4 C712.7,1212.9 714.7,1197.7 716.6,1184.6 C717.9,1176.0 719.1,1159.6 720.4,1155.6 C723.6,1145.3 726.9,1145.8 730.1,1138.2 C732.7,1132.2 735.2,1113.1 737.8,1113.1 C739.7,1113.1 741.7,1133.4 743.6,1146.0 C744.9,1154.4 746.2,1169.1 747.5,1175.0 C750.7,1189.6 753.9,1197.1 757.1,1204.0 C762.3,1215.2 767.4,1223.5 772.6,1229.1 C779.0,1236.1 785.5,1240.3 791.9,1244.5 C797.7,1248.3 803.5,1254.2 809.3,1254.2 C812.5,1254.2 815.8,1244.8 819.0,1233.0 C820.3,1228.2 821.6,1217.0 822.9,1204.0 C824.2,1191.3 825.4,1170.9 826.7,1146.0 C827.3,1133.6 828.0,1097.6 828.6,1097.6 C829.9,1097.6 831.2,1124.6 832.5,1146.0 C833.5,1161.9 834.4,1193.4 835.4,1213.6 C835.7,1220.6 836.1,1230.0 836.4,1233.0 C837.7,1244.5 838.9,1248.4 840.2,1252.3 C843.4,1262.2 846.7,1268.4 849.9,1271.6 C856.3,1277.9 862.8,1280.9 869.2,1283.2 C875.7,1285.5 882.1,1288.0 888.6,1288.0 C896.8,1288.0 905.0,1284.9 913.2,1279.3 C916.4,1277.1 919.7,1265.3 922.9,1258.1 C925.5,1252.4 928.0,1248.6 930.6,1240.7 C932.5,1234.7 934.5,1223.2 936.4,1213.6 C938.3,1204.0 940.3,1188.3 942.2,1182.7 C944.1,1177.1 946.1,1175.0 948.0,1171.1 C951.2,1164.7 954.4,1151.8 957.6,1151.8 C959.5,1151.8 961.5,1168.5 963.4,1180.8 C964.7,1189.1 966.0,1206.8 967.3,1213.6 C969.2,1223.7 971.2,1229.4 973.1,1234.9 C975.7,1242.2 978.2,1246.9 980.8,1252.3 C984.0,1259.2 987.3,1266.7 990.5,1271.6 C993.1,1275.5 995.6,1281.3 998.2,1281.3 C1002.1,1281.3 1005.9,1278.9 1009.8,1275.5 C1011.7,1273.8 1013.7,1269.0 1015.6,1261.9 C1017.5,1254.8 1019.5,1222.8 1021.4,1213.6 C1023.3,1204.4 1025.3,1194.3 1027.2,1194.3 C1029.1,1194.3 1031.1,1222.6 1033.0,1229.1 C1034.9,1235.6 1036.9,1242.6 1038.8,1242.6 C1040.7,1242.6 1042.7,1235.6 1044.6,1227.1 C1045.9,1221.4 1047.2,1188.5 1048.5,1188.5 C1049.8,1188.5 1051.1,1204.5 1052.4,1213.6 C1053.7,1222.4 1054.9,1234.1 1056.2,1242.6 C1057.5,1251.3 1058.8,1265.8 1060.1,1265.8 C1061.4,1265.8 1062.6,1232.7 1063.9,1223.3 C1064.6,1218.4 1065.2,1211.7 1065.9,1211.7 C1067.2,1211.7 1068.4,1243.7 1069.7,1252.3 C1071.0,1261.1 1072.3,1268.4 1073.6,1271.6 C1076.2,1277.9 1078.7,1275.6 1081.3,1283.2 C1082.0,1285.2 1082.6,1294.7 1083.3,1300.6 C1084.6,1311.9 1085.8,1325.0 1087.1,1335.4 C1088.4,1346.1 1089.7,1356.0 1091.0,1364.4 C1092.9,1376.9 1094.9,1397.2 1096.8,1397.2 C1098.7,1397.2 1100.7,1371.5 1102.6,1358.6 C1104.5,1345.7 1106.5,1330.4 1108.4,1319.9 C1111.0,1305.9 1113.5,1294.3 1116.1,1285.1 C1118.7,1275.8 1121.3,1269.7 1123.9,1261.9 C1126.5,1254.2 1129.0,1248.0 1131.6,1238.7 C1134.2,1229.4 1136.7,1217.2 1139.3,1203.9 C1141.2,1193.9 1143.2,1182.9 1145.1,1169.2 C1146.4,1160.0 1147.7,1149.3 1149.0,1136.3 C1150.3,1123.3 1151.6,1105.0 1152.9,1088.0 C1153.5,1079.7 1154.2,1062.0 1154.8,1062.0 C1156.1,1062.0 1157.4,1087.4 1158.7,1107.3 C1159.3,1117.0 1160.0,1138.6 1160.6,1146.0 C1161.9,1160.8 1163.1,1175.0 1164.4,1175.0 C1166.3,1175.0 1168.3,1147.8 1170.2,1126.6 C1171.2,1116.0 1172.1,1084.1 1173.1,1084.1 C1174.1,1084.1 1175.0,1116.6 1176.0,1130.5 C1177.3,1149.2 1178.6,1180.8 1179.9,1180.8 C1181.2,1180.8 1182.5,1169.0 1183.8,1161.4 C1185.1,1154.0 1186.3,1134.4 1187.6,1134.4 C1188.9,1134.4 1190.2,1157.6 1191.5,1169.2 C1192.8,1180.8 1194.1,1195.4 1195.4,1203.9 C1197.3,1216.5 1199.3,1229.6 1201.2,1232.9 C1203.1,1236.1 1205.0,1238.7 1206.9,1238.7 C1209.5,1238.7 1212.1,1230.8 1214.7,1223.3 C1216.6,1217.7 1218.6,1204.0 1220.5,1194.3 C1222.4,1184.6 1224.4,1173.3 1226.3,1165.3 C1227.5,1160.2 1228.8,1153.3 1230.0,1152.0 C1232.3,1149.5 1234.7,1148.6 1237.0,1148.0 C1241.0,1146.9 1245.0,1146.0 1249.0,1146.0 C1250.3,1146.0 1251.7,1157.5 1253.0,1165.0 C1254.7,1174.4 1256.3,1190.1 1258.0,1200.0 C1259.3,1208.0 1260.7,1217.0 1262.0,1221.0 C1264.0,1227.0 1266.0,1231.1 1268.0,1233.0 C1274.0,1238.8 1280.0,1243.0 1286.0,1243.0 C1289.7,1243.0 1293.3,1241.7 1297.0,1240.0 C1301.0,1238.2 1305.0,1231.0 1309.0,1221.0 C1310.3,1217.7 1311.7,1210.0 1313.0,1204.0 C1314.3,1198.0 1315.7,1192.3 1317.0,1185.0 C1318.7,1175.8 1320.3,1152.0 1322.0,1152.0 C1323.3,1152.0 1324.7,1164.6 1326.0,1169.0 C1328.7,1177.9 1331.3,1182.1 1334.0,1190.0 C1336.0,1195.9 1338.0,1203.9 1340.0,1210.0 C1342.0,1216.1 1344.0,1227.0 1346.0,1227.0 C1348.0,1227.0 1350.0,1216.7 1352.0,1210.0 C1353.7,1204.4 1355.3,1199.9 1357.0,1190.0 C1358.0,1184.1 1359.0,1172.2 1360.0,1160.0 C1361.0,1147.8 1362.0,1130.3 1363.0,1113.0 C1363.7,1101.5 1364.3,1085.7 1365.0,1075.0 C1366.0,1058.9 1367.0,1034.0 1368.0,1034.0 C1369.3,1034.0 1370.7,1051.7 1372.0,1060.0 C1373.7,1070.4 1375.3,1078.8 1377.0,1090.0 C1378.3,1098.9 1379.7,1104.7 1381.0,1120.0 C1381.7,1127.7 1382.3,1150.8 1383.0,1160.0 C1384.3,1178.5 1385.7,1191.9 1387.0,1200.0 C1389.3,1214.2 1391.7,1223.3 1394.0,1229.0 C1397.8,1238.4 1401.7,1241.5 1405.5,1248.0 C1406.7,1250.0 1407.8,1254.0 1409.0,1254.0 C1411.0,1254.0 1413.0,1239.4 1415.0,1233.0 C1416.3,1228.7 1417.7,1221.0 1419.0,1221.0 C1423.0,1221.0 1427.0,1239.0 1431.0,1239.0 C1434.7,1239.0 1438.3,1215.0 1442.0,1215.0 C1445.3,1215.0 1448.7,1223.3 1452.0,1227.0 C1456.5,1232.0 1461.0,1240.7 1465.5,1240.7 C1467.3,1240.7 1469.2,1235.0 1471.0,1235.0 C1474.3,1235.0 1477.7,1245.1 1481.0,1256.0 C1483.0,1262.5 1485.0,1287.3 1487.0,1293.0 C1490.7,1303.5 1494.3,1300.9 1498.0,1312.0 C1499.3,1316.0 1500.7,1328.6 1502.0,1339.0 C1503.0,1346.8 1504.0,1360.6 1505.0,1366.0 C1505.7,1369.6 1506.3,1374.0 1507.0,1374.0 C1509.3,1374.0 1511.7,1322.4 1514.0,1314.0 C1516.5,1305.0 1519.0,1305.3 1521.5,1297.0 C1522.7,1293.1 1523.8,1282.1 1525.0,1279.0 C1529.0,1268.3 1533.0,1266.5 1537.0,1260.0 C1540.9,1253.7 1544.7,1249.2 1548.6,1240.7 C1550.4,1236.8 1552.2,1229.6 1554.0,1225.0 C1556.5,1218.5 1559.1,1213.8 1561.6,1207.8 C1564.2,1201.7 1566.7,1198.0 1569.3,1188.5 C1570.6,1183.7 1571.9,1171.5 1573.2,1165.3 C1574.5,1159.1 1575.8,1156.8 1577.1,1149.8 C1578.1,1144.6 1579.0,1131.8 1580.0,1126.6 C1581.0,1121.4 1581.9,1119.8 1582.9,1115.0 C1583.9,1110.2 1584.8,1095.7 1585.8,1095.7 C1590.0,1095.7 1594.1,1096.4 1598.3,1099.6 C1599.3,1100.3 1600.2,1136.3 1601.2,1136.3 C1602.8,1136.3 1604.4,1128.8 1606.0,1125.0 C1607.9,1120.4 1609.9,1111.2 1611.8,1111.2 C1613.7,1111.2 1615.7,1122.3 1617.6,1138.2 C1618.3,1143.7 1618.9,1173.4 1619.6,1175.0 C1622.8,1182.5 1626.0,1184.6 1629.2,1184.6 C1630.5,1184.6 1631.8,1175.4 1633.1,1169.2 C1634.4,1163.0 1635.7,1152.7 1637.0,1146.0 C1638.3,1139.4 1639.5,1134.9 1640.8,1128.6 C1642.1,1122.1 1643.4,1107.3 1644.7,1107.3 C1646.6,1107.3 1648.6,1118.6 1650.5,1124.7 C1652.4,1130.8 1654.4,1136.6 1656.3,1144.0 C1657.6,1149.0 1658.9,1156.4 1660.2,1161.4 C1662.1,1168.9 1664.1,1176.5 1666.0,1180.8 C1669.2,1187.9 1672.4,1191.5 1675.6,1196.2 C1679.5,1201.9 1683.3,1211.7 1687.2,1211.7 C1691.1,1211.7 1694.9,1210.1 1698.8,1207.8 C1701.4,1206.2 1703.9,1200.0 1706.5,1192.3 C1707.8,1188.4 1709.1,1179.1 1710.4,1173.0 C1711.7,1166.9 1713.0,1161.8 1714.3,1155.6 C1715.6,1149.6 1716.8,1144.7 1718.1,1136.3 C1718.8,1131.9 1719.4,1118.9 1720.1,1118.9 C1723.3,1118.9 1726.5,1128.5 1729.7,1138.2 C1731.0,1142.2 1732.3,1149.4 1733.6,1157.6 C1734.2,1161.6 1734.9,1171.2 1735.5,1173.0 C1738.7,1182.1 1742.0,1186.5 1745.2,1186.5 C1748.4,1186.5 1751.7,1179.6 1754.9,1173.0 C1756.8,1169.1 1758.8,1161.6 1760.7,1153.7 C1762.0,1148.5 1763.2,1140.8 1764.5,1134.4 C1765.8,1127.9 1767.1,1120.3 1768.4,1115.0 C1770.3,1107.2 1772.3,1095.7 1774.2,1095.7 C1776.8,1095.7 1779.3,1097.6 1781.9,1097.6 C1783.8,1097.6 1785.8,1093.8 1787.7,1088.0 C1789.0,1084.1 1790.3,1046.0 1791.6,1046.0 C1793.5,1046.0 1795.5,1078.3 1797.4,1078.3 C1800.6,1078.3 1803.9,1064.8 1807.1,1064.8 C1809.0,1064.8 1811.0,1093.7 1812.9,1103.4 C1814.8,1113.1 1816.8,1118.8 1818.7,1126.6 C1820.0,1131.7 1821.2,1138.3 1822.5,1142.1 C1825.1,1149.8 1827.6,1154.7 1830.2,1159.5 C1833.4,1165.6 1836.7,1171.0 1839.9,1175.0 C1844.4,1180.6 1848.9,1185.5 1853.4,1188.5 C1858.6,1192.0 1863.7,1193.1 1868.9,1196.2 C1873.4,1198.9 1878.0,1205.0 1882.5,1206.3 C1890.0,1208.4 1897.5,1210.0 1905.0,1210.0 C1911.7,1210.0 1918.3,1206.6 1925.0,1202.5 C1928.3,1200.5 1931.7,1197.1 1935.0,1190.0 C1936.7,1186.4 1938.3,1171.9 1940.0,1165.0 C1941.7,1158.1 1943.3,1157.1 1945.0,1147.5 C1945.8,1142.7 1946.7,1126.6 1947.5,1117.5 C1948.3,1108.4 1949.2,1099.8 1950.0,1092.5 C1951.7,1078.0 1953.3,1055.0 1955.0,1055.0 C1956.7,1055.0 1958.3,1071.7 1960.0,1087.5 C1960.8,1095.4 1961.7,1119.4 1962.5,1125.0 C1964.2,1136.2 1965.8,1138.8 1967.5,1145.0 C1969.2,1151.2 1970.8,1157.8 1972.5,1162.5 C1975.0,1169.6 1977.5,1175.9 1980.0,1180.0 C1983.3,1185.5 1986.7,1190.6 1990.0,1192.5 C1997.5,1196.8 2005.0,1198.5 2012.5,1200.0 C2018.3,1201.1 2024.2,1202.5 2030.0,1202.5 C2035.0,1202.5 2040.0,1198.4 2045.0,1193.8 C2048.3,1190.7 2051.7,1181.5 2055.0,1175.0 C2058.3,1168.5 2061.7,1166.1 2065.0,1155.0 C2066.3,1150.8 2067.5,1140.1 2068.8,1130.0 C2070.0,1120.2 2071.3,1106.1 2072.5,1092.5 C2074.3,1072.3 2076.2,1025.0 2078.0,1025.0 C2079.5,1025.0 2081.0,1049.7 2082.5,1067.5 C2083.3,1077.4 2084.2,1096.7 2085.0,1105.0 C2086.7,1121.6 2088.3,1133.5 2090.0,1140.0 C2093.3,1153.0 2096.7,1157.0 2100.0,1165.0 C2102.5,1171.0 2105.0,1179.3 2107.5,1182.5 C2112.5,1189.0 2117.5,1191.6 2122.5,1195.0 C2128.3,1199.0 2134.2,1202.2 2140.0,1205.0 C2145.0,1207.4 2150.0,1211.3 2155.0,1211.3 C2160.8,1211.3 2166.7,1210.3 2172.5,1208.8 C2177.5,1207.5 2182.5,1198.9 2187.5,1192.5 C2190.8,1188.3 2194.2,1184.3 2197.5,1177.5 C2200.0,1172.4 2202.5,1163.1 2205.0,1155.0 C2206.7,1149.6 2208.3,1145.1 2210.0,1137.5 C2211.7,1129.9 2213.3,1108.1 2215.0,1105.0 C2218.3,1098.7 2221.7,1097.9 2225.0,1095.0 C2228.3,1092.1 2231.7,1087.5 2235.0,1087.5 C2236.7,1087.5 2238.3,1116.3 2240.0,1125.0 C2241.7,1133.7 2243.3,1140.0 2245.0,1145.0 C2247.5,1152.5 2250.0,1157.9 2252.5,1162.5 C2255.0,1167.1 2257.5,1171.1 2260.0,1173.8 C2265.8,1180.1 2271.7,1183.6 2277.5,1187.5 C2283.3,1191.4 2289.2,1194.8 2295.0,1197.5 C2301.7,1200.5 2308.3,1202.5 2315.0,1205.0" stroke="#0000ff" stroke-width="9.5" stroke-linecap="round" stroke-dasharray="18 20.6"/>
<path d="M282.0,1601.0 C283.1,1582.1 284.3,1556.4 285.4,1544.3 C287.3,1523.9 289.2,1512.0 291.1,1501.4 C294.9,1480.0 298.8,1465.3 302.6,1452.9 C307.4,1437.4 312.1,1426.5 316.9,1415.7 C321.6,1405.0 326.4,1395.7 331.1,1387.1 C336.8,1376.6 342.6,1368.1 348.3,1358.6 C354.0,1349.1 359.7,1340.4 365.4,1330.0 C371.1,1319.6 376.9,1308.7 382.6,1295.7 C387.4,1284.9 392.1,1273.3 396.9,1258.6 C400.7,1246.8 404.5,1235.5 408.3,1215.7 C410.2,1205.8 412.1,1194.6 414.0,1172.9 C415.0,1161.8 415.9,1134.3 416.9,1115.7 C418.0,1093.9 419.2,1052.0 420.3,1052.0 C421.5,1052.0 422.8,1094.8 424.0,1115.7 C425.4,1139.9 426.9,1176.6 428.3,1187.1 C431.2,1208.1 434.0,1215.7 436.9,1224.3 C441.6,1238.5 446.4,1249.0 451.1,1255.7 C458.7,1266.5 466.4,1274.2 474.0,1278.6 C483.5,1284.1 493.1,1290.0 502.6,1290.0 C508.3,1290.0 514.0,1287.8 519.7,1284.3 C523.5,1282.0 527.3,1273.6 531.1,1258.6 C533.0,1251.0 535.0,1232.1 536.9,1201.4 C537.8,1186.6 538.8,1140.8 539.7,1115.7 C540.5,1095.0 541.2,1060.0 542.0,1060.0 C543.6,1060.0 545.3,1110.1 546.9,1144.3 C547.8,1163.8 548.8,1207.0 549.7,1215.7 C553.0,1246.9 556.4,1254.6 559.7,1264.3 C563.0,1274.0 566.4,1279.9 569.7,1285.1 C576.1,1295.2 582.6,1302.7 589.0,1308.3 C598.7,1316.7 608.3,1324.9 618.0,1327.6 C623.1,1329.0 628.3,1330.5 633.4,1330.5 C639.9,1330.5 646.3,1323.6 652.8,1318.0 C660.5,1311.4 668.3,1299.0 676.0,1287.1 C682.4,1277.2 688.9,1264.9 695.3,1252.3 C700.5,1242.2 705.6,1236.9 710.8,1219.4 C712.7,1212.9 714.7,1197.7 716.6,1184.6 C717.9,1176.0 719.1,1159.6 720.4,1155.6 C723.6,1145.3 726.9,1145.8 730.1,1138.2 C732.7,1132.2 735.2,1113.1 737.8,1113.1 C739.7,1113.1 741.7,1133.4 743.6,1146.0 C744.9,1154.4 746.2,1169.1 747.5,1175.0 C750.7,1189.6 753.9,1197.1 757.1,1204.0 C762.3,1215.2 767.4,1223.5 772.6,1229.1 C779.0,1236.1 785.5,1240.3 791.9,1244.5 C797.7,1248.3 803.5,1254.2 809.3,1254.2 C812.5,1254.2 815.8,1246.9 819.0,1240.7 C821.6,1235.7 824.1,1217.5 826.7,1217.5 C828.0,1217.5 829.3,1227.9 830.6,1233.0 C831.9,1238.1 833.2,1245.3 834.5,1248.4 C839.6,1260.7 844.8,1267.1 849.9,1271.6 C856.3,1277.2 862.8,1280.9 869.2,1283.2 C875.7,1285.5 882.1,1288.0 888.6,1288.0 C894.2,1288.0 899.9,1286.8 905.5,1285.1 C910.0,1283.7 914.5,1277.9 919.0,1271.6 C922.2,1267.1 925.5,1256.0 928.7,1250.3 C931.3,1245.7 933.8,1242.6 936.4,1238.7 C939.0,1234.8 941.5,1229.4 944.1,1227.1 C946.7,1224.8 949.2,1222.3 951.8,1222.3 C954.4,1222.3 957.0,1226.2 959.6,1229.1 C962.2,1231.9 964.7,1236.7 967.3,1240.7 C970.5,1245.7 973.8,1251.5 977.0,1256.1 C981.5,1262.5 986.0,1269.7 990.5,1273.5 C995.7,1277.9 1000.8,1283.2 1006.0,1283.2 C1012.4,1283.2 1018.9,1278.0 1025.3,1277.4 C1031.7,1276.8 1038.2,1276.4 1044.6,1276.4 C1051.0,1276.4 1057.5,1277.4 1063.9,1278.4 C1069.1,1279.2 1074.2,1283.2 1079.4,1283.2 C1083.9,1283.2 1088.5,1283.2 1093.0,1283.2 C1099.4,1283.2 1105.9,1278.9 1112.3,1275.5 C1117.4,1272.8 1122.6,1267.7 1127.7,1263.9 C1132.2,1260.6 1136.8,1256.6 1141.3,1254.2 C1147.7,1250.9 1154.2,1247.6 1160.6,1246.5 C1167.0,1245.4 1173.5,1244.5 1179.9,1244.5 C1186.3,1244.5 1192.8,1244.5 1199.2,1244.5 C1205.7,1244.5 1212.1,1239.7 1218.6,1238.7 C1224.2,1237.8 1229.9,1236.8 1235.5,1236.8 C1240.6,1236.8 1245.8,1237.8 1250.9,1238.7 C1256.7,1239.7 1262.5,1243.0 1268.3,1244.5 C1274.7,1246.1 1281.2,1248.4 1287.6,1248.4 C1294.1,1248.4 1300.5,1244.4 1307.0,1242.6 C1313.4,1240.9 1319.9,1238.7 1326.3,1237.8 C1336.0,1236.4 1345.6,1235.4 1355.3,1234.9 C1363.7,1234.4 1372.0,1233.9 1380.4,1233.9 C1386.8,1233.9 1393.3,1236.7 1399.7,1238.7 C1405.5,1240.5 1411.3,1243.6 1417.1,1245.5 C1425.5,1248.2 1433.9,1250.2 1442.3,1252.3 C1452.0,1254.7 1461.6,1258.2 1471.3,1259.0 C1477.7,1259.5 1484.2,1260.0 1490.6,1260.0 C1497.0,1260.0 1503.5,1259.1 1509.9,1258.1 C1516.3,1257.1 1522.8,1254.9 1529.2,1252.3 C1535.7,1249.7 1542.1,1244.6 1548.6,1240.7 C1552.9,1238.1 1557.3,1234.8 1561.6,1232.9 C1567.4,1230.4 1573.2,1229.1 1579.0,1227.1 C1584.2,1225.3 1589.3,1222.6 1594.5,1221.3 C1600.9,1219.6 1607.4,1218.1 1613.8,1217.5 C1624.7,1216.4 1635.7,1215.5 1646.6,1215.5 C1659.5,1215.5 1672.4,1215.5 1685.3,1215.5 C1695.0,1215.5 1704.6,1213.9 1714.3,1212.6 C1724.0,1211.3 1733.6,1208.6 1743.3,1205.9 C1749.7,1204.1 1756.2,1201.5 1762.6,1199.1 C1769.0,1196.7 1775.5,1192.9 1781.9,1191.4 C1787.7,1190.0 1793.5,1188.5 1799.3,1188.5 C1805.1,1188.5 1810.9,1189.0 1816.7,1189.5 C1822.5,1190.0 1828.3,1192.0 1834.1,1193.3 C1840.5,1194.8 1847.0,1196.3 1853.4,1198.1 C1859.2,1199.8 1865.0,1202.0 1870.8,1203.9 C1874.7,1205.1 1878.6,1207.1 1882.5,1207.5 C1890.0,1208.3 1897.5,1208.8 1905.0,1208.8 C1911.7,1208.8 1918.3,1207.4 1925.0,1206.3 C1931.7,1205.2 1938.3,1202.8 1945.0,1201.3 C1950.8,1199.9 1956.7,1197.5 1962.5,1197.5 C1969.2,1197.5 1975.8,1200.0 1982.5,1201.3 C1988.3,1202.5 1994.2,1204.1 2000.0,1205.0 C2006.7,1206.1 2013.3,1207.5 2020.0,1207.5 C2025.8,1207.5 2031.7,1205.4 2037.5,1203.8 C2043.3,1202.2 2049.2,1199.8 2055.0,1197.5 C2060.8,1195.2 2066.7,1190.0 2072.5,1190.0 C2078.3,1190.0 2084.2,1191.3 2090.0,1192.5 C2095.8,1193.7 2101.7,1196.7 2107.5,1198.8 C2113.3,1200.9 2119.2,1203.2 2125.0,1205.0 C2130.8,1206.8 2136.7,1210.0 2142.5,1210.0 C2149.2,1210.0 2155.8,1210.0 2162.5,1210.0 C2168.3,1210.0 2174.2,1207.4 2180.0,1205.0 C2185.0,1203.0 2190.0,1198.7 2195.0,1195.0 C2200.0,1191.3 2205.0,1185.4 2210.0,1182.5 C2215.8,1179.2 2221.7,1175.0 2227.5,1175.0 C2233.3,1175.0 2239.2,1177.0 2245.0,1178.8 C2250.8,1180.6 2256.7,1184.6 2262.5,1187.5 C2268.3,1190.4 2274.2,1194.1 2280.0,1196.3 C2286.7,1198.9 2293.3,1201.1 2300.0,1202.5 C2305.0,1203.6 2310.0,1204.2 2315.0,1205.0" stroke="#ff0000" stroke-width="9.6" stroke-linecap="round" stroke-dasharray="6.9 12"/>
</g>
<g stroke="#000" fill="none" stroke-width="5.8">
<line x1="257" y1="992.5" x2="2317.9" y2="992.5"/>
<line x1="2315.0" y1="992.5" x2="2315.0" y2="1775.0"/>
<line x1="257" y1="1757.0" x2="2315.0" y2="1757.0"/>
<line x1="273.0" y1="989.6" x2="273.0" y2="1775.0"/>
<line x1="257" y1="1698.2" x2="273.0" y2="1698.2"/>
<line x1="257" y1="1639.4" x2="273.0" y2="1639.4"/>
<line x1="257" y1="1580.6" x2="273.0" y2="1580.6"/>
<line x1="257" y1="1521.8" x2="273.0" y2="1521.8"/>
<line x1="257" y1="1463.0" x2="273.0" y2="1463.0"/>
<line x1="257" y1="1404.2" x2="273.0" y2="1404.2"/>
<line x1="257" y1="1345.3" x2="273.0" y2="1345.3"/>
<line x1="257" y1="1286.5" x2="273.0" y2="1286.5"/>
<line x1="257" y1="1227.7" x2="273.0" y2="1227.7"/>
<line x1="257" y1="1168.9" x2="273.0" y2="1168.9"/>
<line x1="257" y1="1110.1" x2="273.0" y2="1110.1"/>
<line x1="257" y1="1051.3" x2="273.0" y2="1051.3"/>
<line x1="265" y1="1739.3" x2="273.0" y2="1739.3"/>
<line x1="265" y1="1728.9" x2="273.0" y2="1728.9"/>
<line x1="265" y1="1721.6" x2="273.0" y2="1721.6"/>
<line x1="265" y1="1715.9" x2="273.0" y2="1715.9"/>
<line x1="265" y1="1711.2" x2="273.0" y2="1711.2"/>
<line x1="265" y1="1707.3" x2="273.0" y2="1707.3"/>
<line x1="265" y1="1703.9" x2="273.0" y2="1703.9"/>
<line x1="265" y1="1700.9" x2="273.0" y2="1700.9"/>
<line x1="265" y1="1680.5" x2="273.0" y2="1680.5"/>
<line x1="265" y1="1670.1" x2="273.0" y2="1670.1"/>
<line x1="265" y1="1662.8" x2="273.0" y2="1662.8"/>
<line x1="265" y1="1657.1" x2="273.0" y2="1657.1"/>
<line x1="265" y1="1652.4" x2="273.0" y2="1652.4"/>
<line x1="265" y1="1648.5" x2="273.0" y2="1648.5"/>
<line x1="265" y1="1645.1" x2="273.0" y2="1645.1"/>
<line x1="265" y1="1642.1" x2="273.0" y2="1642.1"/>
<line x1="265" y1="1621.7" x2="273.0" y2="1621.7"/>
<line x1="265" y1="1611.3" x2="273.0" y2="1611.3"/>
<line x1="265" y1="1604.0" x2="273.0" y2="1604.0"/>
<line x1="265" y1="1598.3" x2="273.0" y2="1598.3"/>
<line x1="265" y1="1593.6" x2="273.0" y2="1593.6"/>
<line x1="265" y1="1589.7" x2="273.0" y2="1589.7"/>
<line x1="265" y1="1586.3" x2="273.0" y2="1586.3"/>
<line x1="265" y1="1583.3" x2="273.0" y2="1583.3"/>
<line x1="265" y1="1562.9" x2="273.0" y2="1562.9"/>
<line x1="265" y1="1552.5" x2="273.0" y2="1552.5"/>
<line x1="265" y1="1545.2" x2="273.0" y2="1545.2"/>
<line x1="265" y1="1539.5" x2="273.0" y2="1539.5"/>
<line x1="265" y1="1534.8" x2="273.0" y2="1534.8"/>
<line x1="265" y1="1530.9" x2="273.0" y2="1530.9"/>
<line x1="265" y1="1527.5" x2="273.0" y2="1527.5"/>
<line x1="265" y1="1524.5" x2="273.0" y2="1524.5"/>
<line x1="265" y1="1504.1" x2="273.0" y2="1504.1"/>
<line x1="265" y1="1493.7" x2="273.0" y2="1493.7"/>
<line x1="265" y1="1486.4" x2="273.0" y2="1486.4"/>
<line x1="265" y1="1480.7" x2="273.0" y2="1480.7"/>
<line x1="265" y1="1476.0" x2="273.0" y2="1476.0"/>
<line x1="265" y1="1472.1" x2="273.0" y2="1472.1"/>
<line x1="265" y1="1468.7" x2="273.0" y2="1468.7"/>
<line x1="265" y1="1465.7" x2="273.0" y2="1465.7"/>
<line x1="265" y1="1445.3" x2="273.0" y2="1445.3"/>
<line x1="265" y1="1434.9" x2="273.0" y2="1434.9"/>
<line x1="265" y1="1427.6" x2="273.0" y2="1427.6"/>
<line x1="265" y1="1421.9" x2="273.0" y2="1421.9"/>
<line x1="265" y1="1417.2" x2="273.0" y2="1417.2"/>
<line x1="265" y1="1413.3" x2="273.0" y2="1413.3"/>
<line x1="265" y1="1409.9" x2="273.0" y2="1409.9"/>
<line x1="265" y1="1406.8" x2="273.0" y2="1406.8"/>
<line x1="265" y1="1386.5" x2="273.0" y2="1386.5"/>
<line x1="265" y1="1376.1" x2="273.0" y2="1376.1"/>
<line x1="265" y1="1368.7" x2="273.0" y2="1368.7"/>
<line x1="265" y1="1363.0" x2="273.0" y2="1363.0"/>
<line x1="265" y1="1358.4" x2="273.0" y2="1358.4"/>
<line x1="265" y1="1354.5" x2="273.0" y2="1354.5"/>
<line x1="265" y1="1351.0" x2="273.0" y2="1351.0"/>
<line x1="265" y1="1348.0" x2="273.0" y2="1348.0"/>
<line x1="265" y1="1327.6" x2="273.0" y2="1327.6"/>
<line x1="265" y1="1317.3" x2="273.0" y2="1317.3"/>
<line x1="265" y1="1309.9" x2="273.0" y2="1309.9"/>
<line x1="265" y1="1304.2" x2="273.0" y2="1304.2"/>
<line x1="265" y1="1299.6" x2="273.0" y2="1299.6"/>
<line x1="265" y1="1295.6" x2="273.0" y2="1295.6"/>
<line x1="265" y1="1292.2" x2="273.0" y2="1292.2"/>
<line x1="265" y1="1289.2" x2="273.0" y2="1289.2"/>
<line x1="265" y1="1268.8" x2="273.0" y2="1268.8"/>
<line x1="265" y1="1258.5" x2="273.0" y2="1258.5"/>
<line x1="265" y1="1251.1" x2="273.0" y2="1251.1"/>
<line x1="265" y1="1245.4" x2="273.0" y2="1245.4"/>
<line x1="265" y1="1240.8" x2="273.0" y2="1240.8"/>
<line x1="265" y1="1236.8" x2="273.0" y2="1236.8"/>
<line x1="265" y1="1233.4" x2="273.0" y2="1233.4"/>
<line x1="265" y1="1230.4" x2="273.0" y2="1230.4"/>
<line x1="265" y1="1210.0" x2="273.0" y2="1210.0"/>
<line x1="265" y1="1199.7" x2="273.0" y2="1199.7"/>
<line x1="265" y1="1192.3" x2="273.0" y2="1192.3"/>
<line x1="265" y1="1186.6" x2="273.0" y2="1186.6"/>
<line x1="265" y1="1182.0" x2="273.0" y2="1182.0"/>
<line x1="265" y1="1178.0" x2="273.0" y2="1178.0"/>
<line x1="265" y1="1174.6" x2="273.0" y2="1174.6"/>
<line x1="265" y1="1171.6" x2="273.0" y2="1171.6"/>
<line x1="265" y1="1151.2" x2="273.0" y2="1151.2"/>
<line x1="265" y1="1140.9" x2="273.0" y2="1140.9"/>
<line x1="265" y1="1133.5" x2="273.0" y2="1133.5"/>
<line x1="265" y1="1127.8" x2="273.0" y2="1127.8"/>
<line x1="265" y1="1123.2" x2="273.0" y2="1123.2"/>
<line x1="265" y1="1119.2" x2="273.0" y2="1119.2"/>
<line x1="265" y1="1115.8" x2="273.0" y2="1115.8"/>
<line x1="265" y1="1112.8" x2="273.0" y2="1112.8"/>
<line x1="265" y1="1092.4" x2="273.0" y2="1092.4"/>
<line x1="265" y1="1082.1" x2="273.0" y2="1082.1"/>
<line x1="265" y1="1074.7" x2="273.0" y2="1074.7"/>
<line x1="265" y1="1069.0" x2="273.0" y2="1069.0"/>
<line x1="265" y1="1064.4" x2="273.0" y2="1064.4"/>
<line x1="265" y1="1060.4" x2="273.0" y2="1060.4"/>
<line x1="265" y1="1057.0" x2="273.0" y2="1057.0"/>
<line x1="265" y1="1054.0" x2="273.0" y2="1054.0"/>
<line x1="265" y1="1033.6" x2="273.0" y2="1033.6"/>
<line x1="265" y1="1023.2" x2="273.0" y2="1023.2"/>
<line x1="265" y1="1015.9" x2="273.0" y2="1015.9"/>
<line x1="265" y1="1010.2" x2="273.0" y2="1010.2"/>
<line x1="265" y1="1005.5" x2="273.0" y2="1005.5"/>
<line x1="265" y1="1001.6" x2="273.0" y2="1001.6"/>
<line x1="265" y1="998.2" x2="273.0" y2="998.2"/>
<line x1="265" y1="995.2" x2="273.0" y2="995.2"/>
<line x1="681.4" y1="1757.0" x2="681.4" y2="1775.0"/>
<line x1="1089.8" y1="1757.0" x2="1089.8" y2="1775.0"/>
<line x1="1498.2" y1="1757.0" x2="1498.2" y2="1775.0"/>
<line x1="1906.6" y1="1757.0" x2="1906.6" y2="1775.0"/>
<line x1="477.2" y1="1757.0" x2="477.2" y2="1766.5" stroke-width="5"/>
<line x1="885.6" y1="1757.0" x2="885.6" y2="1766.5" stroke-width="5"/>
<line x1="1294.0" y1="1757.0" x2="1294.0" y2="1766.5" stroke-width="5"/>
<line x1="1702.4" y1="1757.0" x2="1702.4" y2="1766.5" stroke-width="5"/>
<line x1="2110.8" y1="1757.0" x2="2110.8" y2="1766.5" stroke-width="5"/>
</g>
<text x="245.5" y="1071.6" text-anchor="end" font-size="69.5">10<tspan font-size="47" dy="-26">-3</tspan></text>
<text x="245.5" y="1189.2" text-anchor="end" font-size="69.5">10<tspan font-size="47" dy="-26">-5</tspan></text>
<text x="245.5" y="1306.8" text-anchor="end" font-size="69.5">10<tspan font-size="47" dy="-26">-7</tspan></text>
<text x="245.5" y="1424.5" text-anchor="end" font-size="69.5">10<tspan font-size="47" dy="-26">-9</tspan></text>
<text x="245.5" y="1542.1" text-anchor="end" font-size="69.5">10<tspan font-size="47" dy="-26">-</tspan><tspan font-size="47" dx="-1.8">1</tspan><tspan font-size="47" dx="-1.2">1</tspan></text>
<text x="245.5" y="1659.7" text-anchor="end" font-size="69.5">10<tspan font-size="47" dy="-26">-</tspan><tspan font-size="47" dx="-1.8">1</tspan><tspan font-size="47" dx="-1.2">3</tspan></text>
<text x="245.5" y="1777.3" text-anchor="end" font-size="69.5">10<tspan font-size="47" dy="-26">-</tspan><tspan font-size="47" dx="-1.8">1</tspan><tspan font-size="47" dx="-1.2">5</tspan></text>
<text x="273.0" y="1831.2" text-anchor="middle" font-size="69.5">0</text>
<text x="681.4" y="1831.2" text-anchor="middle" font-size="69.5">100</text>
<text x="1089.8" y="1831.2" text-anchor="middle" font-size="69.5">200</text>
<text x="1498.2" y="1831.2" text-anchor="middle" font-size="69.5">300</text>
<text x="1906.6" y="1831.2" text-anchor="middle" font-size="69.5">400</text>
<text x="2315.0" y="1831.2" text-anchor="middle" font-size="69.5">500</text>
<text x="1293.8" y="1890.5" text-anchor="middle" font-size="69" textLength="455" lengthAdjust="spacingAndGlyphs">Frequency (Hz)</text>
<text transform="translate(98.5,1373.8) rotate(-90)" text-anchor="middle" font-size="69" textLength="581" lengthAdjust="spacingAndGlyphs">Acoustic power (W)</text>
<text x="43.94" y="1038.7" font-size="67" transform="translate(43.94,0) scale(1.018,1) translate(-43.94,0)">(<tspan font-weight="bold">b</tspan>)</text>
<line x1="1535" y1="1514.0" x2="1689" y2="1514.0" stroke="#000" stroke-width="10" stroke-linecap="round"/>
<line x1="1534.7" y1="1598.0" x2="1670" y2="1598.0" stroke="#0000ff" stroke-width="10" stroke-linecap="round" stroke-dasharray="18 20.6"/>
<line x1="1534.5" y1="1694.0" x2="1690" y2="1694.0" stroke="#ff0000" stroke-width="9.6" stroke-linecap="round" stroke-dasharray="6.6 12.05"/>
<text x="1702.8" y="1535.3" font-size="59" transform="translate(1702.8,0) scale(1.0623,1) translate(-1702.8,0)">ML plate</text>
<text x="1706.1" y="1619.4" font-size="59" transform="translate(1706.1,0) scale(1.0510,1) translate(-1706.1,0)">LR plate with</text>
<text x="2067.5" y="1619.4" font-size="59" font-style="italic" transform="translate(2067.5,0) scale(1.1,1) translate(-2067.5,0)">&#951;</text>
<text x="2098.0" y="1634.8" font-size="39" transform="translate(2098.0,0) scale(1.0300,1) translate(-2098.0,0)"><tspan font-style="italic">R</tspan>1,2</text>
<text x="2169.2" y="1619.4" font-size="59" transform="translate(0,1610.3) scale(1,0.733) translate(0,-1610.3)">=</text>
<text x="2199.2" y="1619.4" font-size="59" letter-spacing="-0.8">0</text>
<text x="1706.1" y="1715.4" font-size="59" transform="translate(1706.1,0) scale(1.0510,1) translate(-1706.1,0)">LR plate with</text>
<text x="2067.5" y="1715.4" font-size="59" font-style="italic" transform="translate(2067.5,0) scale(1.1,1) translate(-2067.5,0)">&#951;</text>
<text x="2098.0" y="1730.8" font-size="39" transform="translate(2098.0,0) scale(1.0300,1) translate(-2098.0,0)"><tspan font-style="italic">R</tspan>1,2</text>
<text x="2169.2" y="1715.4" font-size="59" transform="translate(0,1706.3) scale(1,0.733) translate(0,-1706.3)">=</text>
<text x="2199.2" y="1715.4" font-size="59" letter-spacing="-0.8">0.05</text>
<defs><clipPath id="cpc"><rect x="273.0" y="1929.0" width="2042.0" height="764.0"/></clipPath></defs>
<rect x="1089.0" y="1929.0" width="74.6" height="764.0" fill="#c0c0c0"/>
<rect x="1497.8" y="1929.0" width="77.8" height="764.0" fill="#c0c0c0"/>
<g clip-path="url(#cpc)" fill="none" stroke-linejoin="round">
<path d="M281.5,2638.0 C282.8,2623.8 284.0,2608.7 285.3,2595.3 C286.9,2578.0 288.6,2558.1 290.2,2546.7 C292.9,2527.8 295.6,2514.7 298.3,2504.6 C302.1,2490.5 305.8,2482.1 309.6,2472.2 C315.0,2458.0 320.4,2443.2 325.8,2433.4 C333.4,2419.7 340.9,2410.0 348.5,2401.0 C358.2,2389.5 367.9,2381.0 377.6,2371.8 C388.4,2361.6 399.2,2352.4 410.0,2342.7 C420.8,2333.0 431.6,2323.2 442.4,2313.5 C453.2,2303.8 464.0,2294.6 474.8,2284.4 C483.4,2276.2 492.1,2268.2 500.7,2258.5 C508.3,2250.0 515.8,2242.1 523.4,2229.4 C527.7,2222.2 532.0,2214.2 536.3,2200.2 C538.5,2193.2 540.6,2181.8 542.8,2167.8 C544.4,2157.5 546.0,2133.8 547.6,2125.7 C549.1,2118.3 550.5,2113.7 552.0,2110.0 C554.3,2104.2 556.7,2097.0 559.0,2097.0 C560.6,2097.0 562.2,2114.4 563.8,2125.7 C565.4,2137.2 567.1,2160.4 568.7,2167.8 C573.0,2187.3 577.3,2193.9 581.6,2203.4 C587.0,2215.3 592.4,2224.9 597.8,2232.6 C604.3,2241.9 610.8,2252.5 617.3,2255.3 C623.4,2257.9 629.4,2260.2 635.5,2260.2 C640.0,2260.2 644.5,2259.4 649.0,2258.3 C654.2,2257.0 659.3,2249.1 664.5,2240.9 C668.3,2234.8 672.2,2226.7 676.0,2211.9 C677.9,2204.5 679.9,2194.1 681.8,2173.3 C682.5,2166.1 683.1,2139.1 683.8,2134.6 C686.0,2119.6 688.3,2111.4 690.5,2111.4 C692.4,2111.4 694.4,2124.6 696.3,2134.6 C699.2,2149.6 702.1,2192.8 705.0,2202.3 C708.9,2215.0 712.7,2219.2 716.6,2225.5 C721.8,2234.0 726.9,2241.0 732.1,2246.7 C738.5,2253.7 745.0,2262.0 751.4,2264.1 C757.9,2266.2 764.3,2268.0 770.8,2268.0 C778.5,2268.0 786.3,2262.2 794.0,2258.3 C803.7,2253.4 813.3,2245.8 823.0,2239.0 C832.6,2232.3 842.3,2225.9 851.9,2217.7 C858.4,2212.2 864.8,2205.3 871.3,2198.4 C876.4,2193.0 881.6,2188.9 886.7,2181.0 C890.6,2175.0 894.4,2165.5 898.3,2154.0 C901.5,2144.4 904.8,2129.7 908.0,2115.3 C911.2,2101.1 914.4,2078.9 917.6,2067.0 C920.5,2056.2 923.4,2041.0 926.3,2041.0 C928.6,2041.0 930.8,2063.3 933.1,2076.6 C935.0,2088.0 937.0,2106.9 938.9,2115.3 C942.5,2130.9 946.1,2141.2 949.7,2148.1 C952.9,2154.2 956.1,2161.7 959.3,2161.7 C962.5,2161.7 965.8,2152.6 969.0,2144.3 C971.6,2137.7 974.1,2112.6 976.7,2111.4 C979.3,2110.2 981.9,2109.5 984.5,2109.5 C986.4,2109.5 988.4,2125.6 990.3,2134.6 C992.2,2143.5 994.1,2158.0 996.0,2163.6 C999.2,2173.2 1002.5,2177.3 1005.7,2182.9 C1009.6,2189.5 1013.4,2196.5 1017.3,2200.3 C1023.7,2206.7 1030.2,2210.9 1036.6,2213.9 C1043.1,2216.9 1049.5,2220.6 1056.0,2220.6 C1061.1,2220.6 1066.3,2218.5 1071.4,2215.8 C1076.6,2213.0 1081.7,2202.1 1086.9,2186.8 C1089.5,2179.2 1092.0,2163.9 1094.6,2144.3 C1096.5,2129.6 1098.5,2100.8 1100.4,2076.6 C1101.4,2064.5 1102.3,2049.9 1103.3,2038.0 C1104.3,2026.1 1105.2,2005.0 1106.2,2005.0 C1107.5,2005.0 1108.8,2031.2 1110.1,2047.6 C1111.4,2064.0 1112.7,2091.3 1114.0,2105.6 C1115.9,2126.5 1117.8,2144.0 1119.7,2154.0 C1122.3,2167.7 1124.9,2175.2 1127.5,2182.9 C1130.7,2192.3 1133.9,2202.7 1137.1,2206.1 C1141.0,2210.2 1144.8,2213.9 1148.7,2213.9 C1156.4,2213.9 1164.2,2210.9 1171.9,2208.1 C1178.4,2205.8 1184.8,2201.7 1191.3,2196.5 C1197.7,2191.4 1204.2,2183.4 1210.6,2173.3 C1215.1,2166.2 1219.6,2157.1 1224.1,2144.3 C1227.3,2135.1 1230.6,2123.6 1233.8,2105.6 C1235.7,2094.9 1237.7,2073.7 1239.6,2057.3 C1241.5,2040.9 1243.5,2007.0 1245.4,2007.0 C1247.3,2007.0 1249.3,2041.9 1251.2,2057.3 C1253.1,2072.7 1255.1,2090.1 1257.0,2100.0 C1258.7,2108.6 1260.3,2115.3 1262.0,2120.0 C1264.0,2125.7 1266.0,2129.3 1268.0,2133.0 C1270.5,2137.6 1273.0,2141.6 1275.5,2145.0 C1280.0,2151.1 1284.5,2160.4 1289.0,2160.4 C1292.2,2160.4 1295.5,2159.7 1298.7,2158.5 C1301.9,2157.3 1305.1,2139.5 1308.3,2125.6 C1310.9,2114.5 1313.4,2088.1 1316.0,2081.2 C1319.9,2070.8 1323.7,2061.8 1327.6,2061.8 C1329.5,2061.8 1331.5,2086.0 1333.4,2096.6 C1336.0,2110.8 1338.6,2126.5 1341.2,2135.3 C1345.1,2148.4 1348.9,2159.0 1352.8,2164.3 C1359.2,2173.2 1365.7,2176.8 1372.1,2181.7 C1379.8,2187.6 1387.6,2193.2 1395.3,2197.1 C1401.7,2200.3 1408.2,2204.1 1414.6,2204.9 C1424.3,2206.0 1433.9,2206.8 1443.6,2206.8 C1453.3,2206.8 1462.9,2203.4 1472.6,2201.0 C1482.3,2198.6 1491.9,2195.3 1501.6,2191.3 C1511.3,2187.3 1520.9,2181.9 1530.6,2175.9 C1540.3,2169.9 1549.9,2162.6 1559.6,2154.6 C1566.4,2149.0 1573.2,2143.1 1580.0,2135.5 C1585.2,2129.7 1590.3,2123.8 1595.5,2114.3 C1598.1,2109.6 1600.6,2104.9 1603.2,2095.0 C1605.1,2087.5 1607.1,2056.4 1609.0,2050.5 C1612.2,2040.6 1615.5,2035.0 1618.7,2033.1 C1622.6,2030.9 1626.4,2029.2 1630.3,2029.2 C1632.2,2029.2 1634.1,2050.1 1636.0,2058.2 C1639.2,2072.0 1642.5,2093.0 1645.7,2093.0 C1647.6,2093.0 1649.6,2031.2 1651.5,2031.2 C1655.4,2031.2 1659.2,2038.1 1663.1,2046.6 C1665.7,2052.2 1668.2,2076.9 1670.8,2085.3 C1674.0,2095.9 1677.3,2103.4 1680.5,2108.5 C1685.7,2116.6 1690.8,2125.9 1696.0,2125.9 C1701.1,2125.9 1706.3,2123.2 1711.4,2120.1 C1715.3,2117.8 1719.1,2113.1 1723.0,2104.6 C1725.6,2098.9 1728.2,2081.5 1730.8,2066.0 C1733.4,2050.7 1735.9,2021.9 1738.5,2008.0 C1740.1,1999.3 1741.7,1987.0 1743.3,1987.0 C1744.9,1987.0 1746.5,2006.1 1748.1,2017.6 C1750.0,2031.5 1752.0,2056.0 1753.9,2066.0 C1757.1,2082.8 1760.4,2093.3 1763.6,2100.8 C1770.0,2115.7 1776.5,2124.7 1782.9,2131.7 C1792.6,2142.2 1802.2,2148.7 1811.9,2154.9 C1821.6,2161.1 1831.2,2165.5 1840.9,2170.3 C1850.6,2175.1 1860.2,2183.9 1869.9,2183.9 C1877.6,2183.9 1885.4,2182.3 1893.1,2180.0 C1897.4,2178.7 1901.7,2173.7 1906.0,2170.0 C1910.4,2166.3 1914.7,2163.5 1919.1,2157.7 C1923.1,2152.4 1927.0,2144.3 1931.0,2131.5 C1933.4,2123.8 1935.8,2107.6 1938.2,2093.3 C1940.2,2081.4 1942.2,2060.1 1944.2,2052.7 C1946.6,2044.0 1948.9,2035.0 1951.3,2035.0 C1953.3,2035.0 1955.3,2048.5 1957.3,2057.4 C1959.7,2068.1 1962.1,2090.1 1964.5,2098.0 C1968.5,2111.1 1972.4,2120.1 1976.4,2124.3 C1981.2,2129.3 1985.9,2133.9 1990.7,2133.9 C1995.5,2133.9 2000.3,2127.6 2005.1,2121.9 C2009.1,2117.2 2013.0,2111.1 2017.0,2098.0 C2019.0,2091.4 2021.0,2077.3 2023.0,2057.4 C2024.2,2045.5 2025.4,2013.5 2026.6,1997.8 C2027.5,1985.6 2028.5,1967.0 2029.4,1967.0 C2030.8,1967.0 2032.3,2005.6 2033.7,2021.6 C2035.3,2039.5 2036.9,2059.0 2038.5,2069.4 C2041.7,2090.0 2044.8,2104.8 2048.0,2112.4 C2054.4,2127.6 2060.7,2135.8 2067.1,2141.0 C2074.3,2146.9 2081.4,2153.0 2088.6,2153.0 C2095.8,2153.0 2102.9,2149.6 2110.1,2145.8 C2116.5,2142.4 2122.8,2134.0 2129.2,2121.9 C2133.2,2114.3 2137.2,2101.3 2141.2,2081.3 C2143.6,2069.4 2145.9,2048.6 2148.3,2021.6 C2149.5,2007.9 2150.7,1964.0 2151.9,1964.0 C2153.9,1964.0 2155.9,2003.6 2157.9,2021.6 C2160.3,2042.9 2162.6,2070.4 2165.0,2081.3 C2169.0,2099.7 2173.0,2107.0 2177.0,2117.1 C2182.6,2131.1 2188.1,2143.6 2193.7,2153.0 C2200.1,2163.7 2206.4,2179.2 2212.8,2179.2 C2217.6,2179.2 2222.3,2170.9 2227.1,2160.1 C2230.3,2152.9 2233.5,2127.2 2236.7,2105.2 C2239.1,2088.9 2241.4,2068.7 2243.8,2045.5 C2245.8,2025.9 2247.8,1976.0 2249.8,1976.0 C2251.8,1976.0 2253.8,2017.7 2255.8,2033.6 C2258.2,2052.4 2260.5,2072.1 2262.9,2081.3 C2266.9,2096.9 2270.9,2104.9 2274.9,2112.4 C2280.5,2122.8 2286.0,2131.0 2291.6,2136.2 C2299.4,2143.5 2307.2,2146.7 2315.0,2152.0" stroke="#000" stroke-width="9.5" stroke-linecap="round"/>
<path d="M281.5,2638.0 C282.8,2623.8 284.0,2608.7 285.3,2595.3 C286.9,2578.0 288.6,2558.1 290.2,2546.7 C292.9,2527.8 295.6,2514.7 298.3,2504.6 C302.1,2490.5 305.8,2482.1 309.6,2472.2 C315.0,2458.0 320.4,2443.2 325.8,2433.4 C333.4,2419.7 340.9,2410.0 348.5,2401.0 C358.2,2389.5 367.9,2381.0 377.6,2371.8 C388.4,2361.6 399.2,2352.4 410.0,2342.7 C420.8,2333.0 431.6,2323.2 442.4,2313.5 C453.2,2303.8 464.0,2294.6 474.8,2284.4 C483.4,2276.2 492.1,2268.2 500.7,2258.5 C508.3,2250.0 515.8,2242.1 523.4,2229.4 C527.7,2222.2 532.0,2214.2 536.3,2200.2 C538.5,2193.2 540.6,2181.8 542.8,2167.8 C544.4,2157.5 546.0,2141.2 547.6,2125.7 C548.4,2118.3 549.1,2101.4 549.9,2101.4 C551.8,2101.4 553.8,2121.8 555.7,2132.2 C557.9,2143.9 560.0,2158.7 562.2,2167.8 C565.4,2181.4 568.7,2191.4 571.9,2200.2 C576.2,2212.0 580.6,2222.6 584.9,2229.4 C591.4,2239.5 597.8,2246.7 604.3,2252.0 C609.5,2256.3 614.8,2260.2 620.0,2262.2 C624.5,2264.0 629.0,2266.0 633.5,2266.0 C638.7,2266.0 643.8,2260.2 649.0,2254.4 C652.2,2250.8 655.5,2244.0 658.7,2235.1 C661.3,2228.0 663.8,2215.8 666.4,2202.3 C668.3,2192.1 670.3,2179.4 672.2,2163.6 C673.5,2153.2 674.7,2137.8 676.0,2125.0 C677.0,2115.3 677.9,2107.0 678.9,2096.0 C679.9,2085.0 680.8,2058.0 681.8,2058.0 C683.1,2058.0 684.4,2083.2 685.7,2105.6 C686.3,2116.5 687.0,2144.5 687.6,2154.0 C688.9,2173.5 690.2,2184.7 691.5,2192.6 C694.7,2212.2 698.0,2222.7 701.2,2231.3 C704.4,2239.9 707.6,2246.2 710.8,2250.6 C716.0,2257.7 721.1,2263.2 726.3,2266.0 C733.4,2269.9 740.5,2273.8 747.6,2273.8 C754.0,2273.8 760.5,2270.8 766.9,2268.0 C772.7,2265.5 778.5,2259.2 784.3,2254.4 C790.7,2249.0 797.2,2243.6 803.6,2237.1 C808.7,2231.9 813.9,2225.9 819.0,2219.7 C823.5,2214.3 828.1,2209.1 832.6,2202.3 C835.8,2197.4 839.1,2191.3 842.3,2184.9 C845.5,2178.6 848.7,2172.3 851.9,2163.6 C853.8,2158.4 855.8,2152.9 857.7,2144.3 C859.0,2138.5 860.3,2129.5 861.6,2120.0 C862.6,2113.0 863.5,2101.3 864.5,2095.0 C865.8,2086.5 867.1,2075.0 868.4,2075.0 C869.9,2075.0 871.5,2083.9 873.0,2090.0 C874.3,2095.3 875.7,2103.9 877.0,2110.0 C879.0,2119.0 880.9,2127.2 882.9,2134.6 C884.8,2141.7 886.7,2149.2 888.6,2154.0 C890.5,2158.8 892.5,2165.5 894.4,2165.5 C897.6,2165.5 900.9,2160.8 904.1,2150.0 C905.1,2146.8 906.0,2121.6 907.0,2110.0 C908.0,2098.0 909.0,2078.0 910.0,2078.0 C911.0,2078.0 912.0,2097.1 913.0,2110.0 C913.9,2121.6 914.8,2140.9 915.7,2154.0 C916.3,2163.2 917.0,2175.4 917.6,2179.1 C919.5,2190.5 921.5,2193.5 923.4,2198.4 C926.6,2206.6 929.9,2214.0 933.1,2217.7 C935.4,2220.4 937.7,2221.3 940.0,2223.5 C943.2,2226.7 946.5,2235.1 949.7,2235.1 C953.6,2235.1 957.4,2233.9 961.3,2231.3 C963.2,2230.0 965.2,2221.2 967.1,2208.1 C967.7,2203.8 968.4,2191.3 969.0,2182.9 C970.0,2170.1 970.9,2158.1 971.9,2144.3 C972.9,2130.5 973.8,2099.8 974.8,2099.8 C976.1,2099.8 977.4,2119.7 978.7,2134.6 C979.7,2145.7 980.6,2156.6 981.6,2179.1 C981.9,2186.1 982.2,2209.1 982.5,2211.9 C983.8,2224.2 985.1,2226.9 986.4,2229.3 C989.6,2235.1 992.8,2239.0 996.0,2239.0 C999.2,2239.0 1002.5,2230.5 1005.7,2221.6 C1007.6,2216.3 1009.6,2204.0 1011.5,2192.6 C1012.8,2185.0 1014.1,2168.5 1015.4,2165.5 C1017.3,2161.0 1019.3,2157.8 1021.2,2157.8 C1024.4,2157.8 1027.6,2175.8 1030.8,2182.9 C1032.1,2185.8 1033.4,2187.6 1034.7,2190.7 C1037.3,2196.9 1039.8,2208.3 1042.4,2215.8 C1044.3,2221.5 1046.3,2231.3 1048.2,2231.3 C1050.8,2231.3 1053.4,2228.3 1056.0,2223.5 C1057.3,2221.2 1058.5,2210.4 1059.8,2202.3 C1061.1,2194.0 1062.4,2185.7 1063.7,2173.3 C1064.3,2167.3 1065.0,2150.1 1065.6,2150.1 C1067.5,2150.1 1069.5,2165.6 1071.4,2173.3 C1072.7,2178.5 1074.0,2183.5 1075.3,2188.7 C1077.2,2196.4 1079.2,2210.1 1081.1,2211.9 C1083.7,2214.3 1086.2,2213.3 1088.8,2215.8 C1090.1,2217.1 1091.4,2222.5 1092.7,2231.3 C1093.3,2235.6 1094.0,2250.8 1094.6,2260.2 C1095.3,2270.1 1095.9,2283.9 1096.6,2289.2 C1097.9,2299.3 1099.1,2292.0 1100.4,2308.6 C1100.5,2309.9 1100.6,2339.5 1100.7,2339.5 C1103.2,2339.5 1105.6,2293.2 1108.1,2279.6 C1110.1,2268.7 1112.0,2259.9 1114.0,2254.4 C1117.2,2245.4 1120.4,2241.2 1123.6,2235.1 C1126.8,2229.0 1130.1,2224.8 1133.3,2217.7 C1135.9,2212.1 1138.4,2205.1 1141.0,2196.5 C1143.6,2187.9 1146.1,2181.6 1148.7,2163.6 C1149.7,2156.8 1150.6,2138.5 1151.6,2125.0 C1152.6,2111.5 1153.5,2082.4 1154.5,2082.4 C1157.1,2082.4 1159.7,2088.8 1162.3,2096.0 C1163.6,2099.5 1164.8,2105.3 1166.1,2115.3 C1166.8,2120.6 1167.4,2136.2 1168.1,2144.3 C1169.4,2159.7 1170.6,2182.9 1171.9,2182.9 C1174.5,2182.9 1177.1,2182.9 1179.7,2182.9 C1181.6,2182.9 1183.6,2176.6 1185.5,2169.4 C1186.8,2164.7 1188.0,2152.4 1189.3,2140.4 C1190.6,2128.1 1191.9,2092.0 1193.2,2092.0 C1194.5,2092.0 1195.8,2097.2 1197.1,2099.8 C1199.7,2104.9 1202.2,2115.3 1204.8,2115.3 C1205.4,2115.3 1206.1,2089.4 1206.7,2076.6 C1207.7,2057.1 1208.6,2033.4 1209.6,2018.7 C1210.6,2004.0 1211.5,1983.0 1212.5,1983.0 C1213.1,1983.0 1213.8,2035.4 1214.4,2047.6 C1215.7,2072.6 1217.0,2075.4 1218.3,2096.0 C1218.9,2106.0 1219.6,2127.3 1220.2,2134.6 C1221.5,2149.6 1222.8,2157.5 1224.1,2163.6 C1225.4,2169.7 1226.7,2176.0 1228.0,2177.1 C1231.2,2179.7 1234.4,2181.0 1237.6,2181.0 C1239.5,2181.0 1241.5,2164.6 1243.4,2154.0 C1245.3,2143.4 1247.3,2128.5 1249.2,2115.3 C1250.5,2106.4 1251.8,2088.2 1253.1,2088.2 C1255.0,2088.2 1257.0,2119.8 1258.9,2134.6 C1260.3,2145.1 1261.6,2155.9 1263.0,2165.0 C1264.6,2175.4 1266.1,2193.3 1267.7,2193.3 C1271.6,2193.3 1275.4,2187.1 1279.3,2183.6 C1283.8,2179.5 1288.4,2177.9 1292.9,2170.1 C1294.8,2166.8 1296.8,2157.5 1298.7,2146.9 C1300.0,2139.9 1301.2,2127.3 1302.5,2116.0 C1303.8,2104.4 1305.1,2089.8 1306.4,2077.3 C1307.4,2068.0 1308.3,2063.2 1309.3,2050.3 C1309.6,2045.9 1310.0,2031.0 1310.3,2031.0 C1311.6,2031.0 1312.8,2048.8 1314.1,2058.0 C1315.4,2067.4 1316.7,2062.5 1318.0,2087.0 C1318.1,2088.9 1318.2,2125.0 1318.3,2125.6 C1321.4,2145.6 1324.5,2146.9 1327.6,2146.9 C1330.2,2146.9 1332.8,2136.7 1335.4,2125.6 C1336.7,2120.2 1337.9,2108.2 1339.2,2096.6 C1340.5,2084.7 1341.8,2052.2 1343.1,2052.2 C1344.4,2052.2 1345.7,2063.8 1347.0,2077.3 C1347.6,2083.9 1348.3,2107.2 1348.9,2116.0 C1350.2,2134.0 1351.5,2147.1 1352.8,2154.6 C1355.4,2169.3 1357.9,2176.9 1360.5,2183.6 C1363.1,2190.3 1365.6,2195.6 1368.2,2199.1 C1372.1,2204.4 1375.9,2210.7 1379.8,2210.7 C1385.0,2210.7 1390.1,2206.2 1395.3,2201.0 C1399.2,2197.1 1403.0,2186.7 1406.9,2173.9 C1408.8,2167.5 1410.8,2152.7 1412.7,2145.0 C1414.6,2137.3 1416.6,2128.7 1418.5,2125.6 C1421.1,2121.5 1423.6,2117.9 1426.2,2117.9 C1428.8,2117.9 1431.4,2131.4 1434.0,2131.4 C1436.6,2131.4 1439.1,2117.9 1441.7,2117.9 C1443.0,2117.9 1444.2,2142.2 1445.5,2154.6 C1446.8,2167.3 1448.1,2180.2 1449.4,2193.3 C1450.0,2199.7 1450.7,2212.6 1451.3,2212.6 C1452.0,2212.6 1452.6,2189.6 1453.3,2183.6 C1454.6,2172.2 1455.8,2161.8 1457.1,2160.4 C1459.7,2157.4 1462.4,2156.7 1465.0,2156.0 C1467.5,2155.3 1470.1,2154.6 1472.6,2154.6 C1475.8,2154.6 1479.1,2161.2 1482.3,2173.9 C1482.9,2176.4 1483.6,2186.9 1484.2,2193.3 C1485.5,2206.4 1486.8,2223.2 1488.1,2231.9 C1489.4,2240.4 1490.6,2244.9 1491.9,2251.3 C1493.2,2257.8 1494.5,2264.4 1495.8,2270.6 C1498.4,2282.8 1500.9,2305.4 1503.5,2305.4 C1506.1,2305.4 1508.7,2289.2 1511.3,2280.2 C1513.9,2271.3 1516.4,2259.0 1519.0,2251.3 C1521.6,2243.6 1524.1,2237.1 1526.7,2231.9 C1530.6,2224.0 1534.4,2218.7 1538.3,2212.6 C1543.5,2204.4 1548.6,2197.2 1553.8,2189.4 C1556.4,2185.5 1558.9,2182.2 1561.5,2177.8 C1565.4,2171.2 1569.2,2166.7 1573.1,2154.6 C1574.1,2151.6 1575.0,2144.9 1576.0,2140.0 C1577.3,2133.3 1578.7,2128.1 1580.0,2120.0 C1581.3,2112.1 1582.6,2099.4 1583.9,2090.0 C1585.2,2080.8 1586.4,2064.0 1587.7,2064.0 C1589.0,2064.0 1590.3,2080.6 1591.6,2085.3 C1594.2,2094.5 1596.7,2094.2 1599.3,2104.6 C1600.6,2109.8 1601.9,2135.5 1603.2,2135.5 C1605.8,2135.5 1608.3,2127.6 1610.9,2120.1 C1612.8,2114.5 1614.8,2103.4 1616.7,2091.1 C1618.0,2082.8 1619.3,2067.9 1620.6,2058.2 C1622.5,2043.7 1624.5,2031.0 1626.4,2019.6 C1627.4,2013.9 1628.3,2004.0 1629.3,2004.0 C1630.3,2004.0 1631.2,2029.9 1632.2,2046.6 C1632.8,2057.5 1633.5,2076.5 1634.1,2085.3 C1635.4,2103.4 1636.7,2118.8 1638.0,2124.0 C1639.3,2129.1 1640.5,2133.6 1641.8,2133.6 C1644.4,2133.6 1647.0,2112.8 1649.6,2104.6 C1652.2,2096.5 1654.7,2083.4 1657.3,2083.4 C1659.9,2083.4 1662.4,2095.6 1665.0,2104.6 C1666.3,2109.1 1667.6,2118.7 1668.9,2122.0 C1672.1,2130.2 1675.4,2137.5 1678.6,2137.5 C1683.7,2137.5 1688.9,2128.6 1694.0,2116.2 C1695.9,2111.5 1697.9,2100.1 1699.8,2085.3 C1701.1,2075.4 1702.4,2051.3 1703.7,2037.0 C1705.0,2022.7 1706.3,2012.4 1707.6,1998.3 C1708.6,1987.8 1709.5,1964.0 1710.5,1964.0 C1712.1,1964.0 1713.7,1980.4 1715.3,1998.3 C1715.9,2005.4 1716.6,2022.8 1717.2,2035.0 C1717.9,2047.9 1718.5,2068.6 1719.2,2073.7 C1721.8,2093.3 1724.3,2104.6 1726.9,2104.6 C1731.4,2104.6 1735.9,2095.6 1740.4,2085.3 C1743.0,2079.4 1745.5,2060.4 1748.1,2050.5 C1749.4,2045.5 1750.7,2037.0 1752.0,2037.0 C1753.3,2037.0 1754.6,2067.5 1755.9,2075.6 C1757.8,2087.6 1759.8,2091.8 1761.7,2100.8 C1763.6,2109.8 1765.6,2125.0 1767.5,2129.7 C1771.4,2139.2 1775.2,2142.5 1779.1,2147.1 C1783.0,2151.7 1786.8,2155.6 1790.7,2158.7 C1797.8,2164.3 1804.8,2169.6 1811.9,2172.3 C1821.6,2176.0 1831.2,2180.0 1840.9,2180.0 C1847.3,2180.0 1853.8,2178.0 1860.2,2176.1 C1867.3,2174.0 1874.4,2169.3 1881.5,2164.5 C1887.7,2160.3 1893.8,2152.7 1900.0,2148.2 C1906.4,2143.5 1912.7,2141.6 1919.1,2136.2 C1924.7,2131.5 1930.2,2122.5 1935.8,2114.8 C1939.0,2110.3 1942.2,2106.8 1945.4,2100.4 C1947.4,2096.4 1949.3,2090.6 1951.3,2083.7 C1952.9,2078.1 1954.5,2071.1 1956.1,2062.2 C1956.9,2057.7 1957.7,2051.4 1958.5,2045.5 C1959.3,2039.6 1960.1,2032.7 1960.9,2026.4 C1962.1,2016.9 1963.3,1998.0 1964.5,1998.0 C1966.1,1998.0 1967.6,2008.7 1969.2,2016.9 C1970.0,2021.1 1970.8,2033.6 1971.6,2033.6 C1973.2,2033.6 1974.8,2011.2 1976.4,2004.9 C1977.6,2000.2 1978.8,1994.0 1980.0,1994.0 C1981.2,1994.0 1982.4,2026.3 1983.6,2033.6 C1985.2,2043.1 1986.7,2052.7 1988.3,2052.7 C1989.9,2052.7 1991.5,2035.5 1993.1,2030.0 C1994.1,2026.7 1995.0,2022.0 1996.0,2022.0 C1999.0,2022.0 2002.0,2025.3 2005.0,2030.0 C2006.6,2032.5 2008.2,2041.2 2009.8,2050.3 C2010.6,2054.9 2011.4,2066.2 2012.2,2069.4 C2014.6,2078.9 2017.0,2081.5 2019.4,2086.1 C2021.8,2090.7 2024.2,2095.0 2026.6,2098.0 C2029.0,2101.0 2031.3,2105.2 2033.7,2105.2 C2038.5,2105.2 2043.2,2104.4 2048.0,2102.8 C2051.2,2101.8 2054.4,2091.0 2057.6,2083.7 C2060.0,2078.2 2062.4,2072.4 2064.8,2064.6 C2066.4,2059.5 2067.9,2054.2 2069.5,2045.5 C2070.3,2041.0 2071.1,2032.8 2071.9,2026.4 C2073.1,2016.9 2074.3,2008.1 2075.5,1997.8 C2076.7,1987.5 2077.9,1964.0 2079.1,1964.0 C2080.7,1964.0 2082.3,1984.1 2083.9,1997.8 C2084.7,2004.4 2085.4,2016.2 2086.2,2021.6 C2087.8,2032.8 2089.4,2037.5 2091.0,2045.5 C2092.6,2053.5 2094.2,2063.3 2095.8,2069.4 C2098.2,2078.5 2100.6,2086.6 2103.0,2090.9 C2107.0,2097.9 2110.9,2100.9 2114.9,2105.2 C2118.9,2109.5 2122.8,2112.8 2126.8,2117.1 C2130.8,2121.5 2134.8,2128.6 2138.8,2131.5 C2146.8,2137.4 2154.7,2139.8 2162.7,2143.4 C2170.6,2146.9 2178.6,2151.7 2186.5,2153.0 C2193.7,2154.2 2200.8,2155.3 2208.0,2155.3 C2214.4,2155.3 2220.7,2151.5 2227.1,2148.2 C2232.7,2145.3 2238.2,2139.4 2243.8,2133.9 C2248.6,2129.1 2253.5,2125.3 2258.3,2117.1 C2260.6,2113.1 2263.0,2104.0 2265.3,2098.0 C2266.9,2093.9 2268.5,2090.4 2270.1,2086.1 C2272.5,2079.6 2274.9,2073.8 2277.3,2064.6 C2278.9,2058.6 2280.4,2049.6 2282.0,2040.7 C2283.6,2031.6 2285.2,2022.5 2286.8,2009.7 C2288.0,2000.1 2289.2,1973.0 2290.4,1973.0 C2292.4,1973.0 2294.4,1994.0 2296.4,2009.7 C2297.2,2016.0 2298.0,2027.4 2298.8,2033.6 C2300.4,2045.8 2301.9,2054.7 2303.5,2062.2 C2305.1,2069.9 2306.7,2076.9 2308.3,2081.3 C2310.5,2087.4 2312.8,2090.4 2315.0,2095.0" stroke="#0000ff" stroke-width="9.5" stroke-linecap="round" stroke-dasharray="18 20.6"/>
<path d="M281.5,2638.0 C282.8,2623.8 284.0,2608.7 285.3,2595.3 C286.9,2578.0 288.6,2558.1 290.2,2546.7 C292.9,2527.8 295.6,2514.7 298.3,2504.6 C302.1,2490.5 305.8,2482.1 309.6,2472.2 C315.0,2458.0 320.4,2443.2 325.8,2433.4 C333.4,2419.7 340.9,2410.0 348.5,2401.0 C358.2,2389.5 367.9,2381.0 377.6,2371.8 C388.4,2361.6 399.2,2352.4 410.0,2342.7 C420.8,2333.0 431.6,2323.2 442.4,2313.5 C453.2,2303.8 464.0,2294.6 474.8,2284.4 C483.4,2276.2 492.1,2268.2 500.7,2258.5 C508.3,2250.0 515.8,2242.1 523.4,2229.4 C527.7,2222.2 532.0,2214.2 536.3,2200.2 C538.5,2193.2 540.6,2181.8 542.8,2167.8 C544.4,2157.5 546.0,2141.2 547.6,2125.7 C548.4,2118.3 549.1,2101.4 549.9,2101.4 C551.8,2101.4 553.8,2121.8 555.7,2132.2 C557.9,2143.9 560.0,2158.7 562.2,2167.8 C565.4,2181.4 568.7,2191.4 571.9,2200.2 C576.2,2212.0 580.6,2222.6 584.9,2229.4 C591.4,2239.5 597.8,2246.7 604.3,2252.0 C609.5,2256.3 614.8,2260.2 620.0,2262.2 C624.5,2264.0 629.0,2266.0 633.5,2266.0 C638.7,2266.0 643.8,2260.2 649.0,2254.4 C652.2,2250.8 655.5,2244.0 658.7,2235.1 C661.3,2228.0 663.8,2215.8 666.4,2202.3 C668.3,2192.1 670.3,2179.4 672.2,2163.6 C673.5,2153.2 674.7,2137.8 676.0,2125.0 C677.0,2115.3 677.9,2105.0 678.9,2096.0 C679.9,2087.0 680.8,2070.8 681.8,2070.8 C683.1,2070.8 684.4,2087.4 685.7,2105.6 C686.3,2114.5 687.0,2144.5 687.6,2154.0 C688.9,2173.5 690.2,2184.7 691.5,2192.6 C694.7,2212.2 698.0,2222.7 701.2,2231.3 C704.4,2239.9 707.6,2246.2 710.8,2250.6 C716.0,2257.7 721.1,2263.2 726.3,2266.0 C733.4,2269.9 740.5,2273.8 747.6,2273.8 C754.0,2273.8 760.5,2270.8 766.9,2268.0 C772.7,2265.5 778.5,2259.2 784.3,2254.4 C790.7,2249.0 797.2,2243.6 803.6,2237.1 C808.7,2231.9 813.9,2225.9 819.0,2219.7 C823.5,2214.3 828.1,2209.1 832.6,2202.3 C835.8,2197.4 839.1,2191.3 842.3,2184.9 C845.5,2178.6 848.7,2172.3 851.9,2163.6 C853.8,2158.4 855.8,2152.1 857.7,2144.3 C859.0,2139.1 860.3,2131.4 861.6,2125.0 C862.9,2118.6 864.2,2110.5 865.5,2105.6 C866.8,2100.8 868.0,2094.0 869.3,2094.0 C871.2,2094.0 873.2,2096.6 875.1,2099.8 C876.4,2102.0 877.7,2109.6 879.0,2115.3 C880.3,2121.0 881.6,2129.3 882.9,2134.6 C884.8,2142.4 886.7,2149.2 888.6,2154.0 C890.5,2158.8 892.5,2165.5 894.4,2165.5 C897.6,2165.5 900.9,2161.8 904.1,2157.8 C906.0,2155.4 908.0,2144.3 909.9,2144.3 C911.8,2144.3 913.8,2150.7 915.7,2159.7 C916.3,2162.7 917.0,2175.6 917.6,2179.1 C919.5,2189.7 921.5,2193.5 923.4,2198.4 C926.6,2206.6 929.9,2212.4 933.1,2217.7 C935.4,2221.5 937.7,2225.3 940.0,2227.4 C942.9,2230.0 945.7,2231.6 948.6,2233.0 C952.2,2234.7 955.7,2237.1 959.3,2237.1 C963.8,2237.1 968.4,2223.5 972.9,2223.5 C976.8,2223.5 980.6,2230.8 984.5,2233.2 C988.3,2235.6 992.2,2239.0 996.0,2239.0 C1000.5,2239.0 1005.1,2227.5 1009.6,2223.5 C1014.1,2219.6 1018.6,2213.9 1023.1,2213.9 C1026.3,2213.9 1029.6,2221.4 1032.8,2225.5 C1036.7,2230.4 1040.5,2238.6 1044.4,2240.9 C1049.5,2244.0 1054.7,2245.8 1059.8,2246.7 C1065.6,2247.7 1071.4,2247.6 1077.2,2248.7 C1083.0,2249.8 1088.8,2258.3 1094.6,2258.3 C1099.1,2258.3 1103.6,2255.3 1108.1,2252.5 C1112.6,2249.7 1117.2,2242.3 1121.7,2237.1 C1125.6,2232.6 1129.4,2227.3 1133.3,2223.5 C1137.8,2219.0 1142.3,2215.2 1146.8,2211.9 C1152.0,2208.2 1157.1,2205.3 1162.3,2202.3 C1168.1,2198.9 1173.9,2196.0 1179.7,2192.6 C1184.8,2189.6 1190.0,2182.9 1195.1,2182.9 C1200.9,2182.9 1206.7,2183.7 1212.5,2184.9 C1217.7,2185.9 1222.8,2195.1 1228.0,2196.5 C1233.8,2198.1 1239.6,2199.4 1245.4,2199.4 C1251.8,2199.4 1258.3,2199.4 1264.7,2199.4 C1269.6,2199.4 1274.4,2196.3 1279.3,2193.3 C1283.8,2190.5 1288.4,2183.3 1292.9,2177.8 C1297.4,2172.4 1301.9,2160.4 1306.4,2160.4 C1311.5,2160.4 1316.7,2163.6 1321.8,2166.2 C1327.0,2168.8 1332.1,2173.9 1337.3,2177.8 C1342.5,2181.7 1347.6,2184.6 1352.8,2189.4 C1356.7,2193.0 1360.5,2199.7 1364.4,2202.9 C1369.5,2207.2 1374.7,2212.6 1379.8,2212.6 C1385.0,2212.6 1390.1,2209.4 1395.3,2206.8 C1400.5,2204.2 1405.6,2198.3 1410.8,2195.2 C1415.9,2192.1 1421.1,2187.5 1426.2,2187.5 C1432.0,2187.5 1437.8,2192.0 1443.6,2195.2 C1448.8,2198.1 1453.9,2202.9 1459.1,2206.8 C1464.2,2210.7 1469.4,2215.1 1474.5,2218.4 C1480.3,2222.1 1486.1,2227.0 1491.9,2228.1 C1497.7,2229.2 1503.5,2230.0 1509.3,2230.0 C1515.1,2230.0 1520.9,2224.5 1526.7,2220.3 C1531.2,2217.0 1535.7,2211.0 1540.2,2206.8 C1545.4,2202.0 1550.5,2197.4 1555.7,2193.3 C1560.2,2189.8 1564.7,2186.8 1569.2,2183.6 C1572.8,2181.1 1576.4,2177.6 1580.0,2176.1 C1588.4,2172.7 1596.7,2171.0 1605.1,2169.4 C1611.6,2168.2 1618.0,2167.0 1624.5,2166.5 C1630.3,2166.0 1636.0,2165.9 1641.8,2165.5 C1648.3,2165.0 1654.7,2164.6 1661.2,2163.6 C1667.0,2162.7 1672.8,2160.3 1678.6,2157.8 C1684.4,2155.3 1690.2,2149.8 1696.0,2147.1 C1701.8,2144.4 1707.6,2140.4 1713.4,2140.4 C1719.8,2140.4 1726.3,2141.8 1732.7,2142.3 C1738.5,2142.7 1744.3,2142.7 1750.1,2143.3 C1755.2,2143.8 1760.4,2148.1 1765.5,2151.0 C1770.7,2153.9 1775.8,2157.7 1781.0,2160.7 C1786.8,2164.1 1792.6,2167.6 1798.4,2170.3 C1804.2,2173.0 1810.0,2175.8 1815.8,2177.1 C1822.2,2178.5 1828.7,2180.0 1835.1,2180.0 C1840.9,2180.0 1846.7,2179.6 1852.5,2179.0 C1858.3,2178.4 1864.1,2176.5 1869.9,2174.2 C1875.7,2171.9 1881.5,2166.7 1887.3,2162.6 C1891.5,2159.6 1895.8,2156.4 1900.0,2153.0 C1904.8,2149.2 1909.5,2145.6 1914.3,2141.0 C1919.9,2135.6 1925.4,2127.8 1931.0,2121.9 C1936.6,2115.9 1942.2,2110.4 1947.8,2105.2 C1954.2,2099.3 1960.5,2090.2 1966.9,2088.5 C1974.8,2086.4 1982.8,2084.9 1990.7,2084.9 C1997.1,2084.9 2003.4,2087.9 2009.8,2090.9 C2014.6,2093.1 2019.4,2100.4 2024.2,2102.8 C2029.8,2105.6 2035.3,2108.8 2040.9,2108.8 C2046.5,2108.8 2052.0,2100.6 2057.6,2095.7 C2061.6,2092.2 2065.5,2086.1 2069.5,2083.7 C2074.3,2080.8 2079.1,2077.7 2083.9,2077.7 C2088.7,2077.7 2093.4,2085.6 2098.2,2090.9 C2102.2,2095.3 2106.1,2102.9 2110.1,2107.6 C2114.9,2113.2 2119.6,2118.1 2124.4,2121.9 C2129.2,2125.7 2134.0,2128.5 2138.8,2131.5 C2144.4,2134.9 2149.9,2138.3 2155.5,2141.0 C2161.1,2143.7 2166.6,2146.3 2172.2,2148.2 C2177.8,2150.1 2183.3,2152.0 2188.9,2153.0 C2195.3,2154.1 2201.6,2155.3 2208.0,2155.3 C2214.4,2155.3 2220.7,2152.9 2227.1,2150.6 C2231.9,2148.8 2236.6,2145.1 2241.4,2141.0 C2246.2,2136.9 2251.0,2131.1 2255.8,2124.3 C2259.8,2118.7 2263.7,2109.3 2267.7,2102.8 C2270.9,2097.6 2274.1,2092.4 2277.3,2088.5 C2280.5,2084.7 2283.6,2078.9 2286.8,2078.9 C2290.8,2078.9 2294.7,2080.0 2298.7,2081.3 C2304.1,2083.1 2309.6,2091.8 2315.0,2097.0" stroke="#ff0000" stroke-width="9.6" stroke-linecap="round" stroke-dasharray="6.9 12"/>
</g>
<g stroke="#000" fill="none" stroke-width="5.8">
<line x1="257" y1="1929.0" x2="2317.9" y2="1929.0"/>
<line x1="2315.0" y1="1929.0" x2="2315.0" y2="2711.0"/>
<line x1="257" y1="2693.0" x2="2315.0" y2="2693.0"/>
<line x1="273.0" y1="1926.1" x2="273.0" y2="2711.0"/>
<line x1="257" y1="2634.2" x2="273.0" y2="2634.2"/>
<line x1="257" y1="2575.5" x2="273.0" y2="2575.5"/>
<line x1="257" y1="2516.7" x2="273.0" y2="2516.7"/>
<line x1="257" y1="2457.9" x2="273.0" y2="2457.9"/>
<line x1="257" y1="2399.2" x2="273.0" y2="2399.2"/>
<line x1="257" y1="2340.4" x2="273.0" y2="2340.4"/>
<line x1="257" y1="2281.6" x2="273.0" y2="2281.6"/>
<line x1="257" y1="2222.8" x2="273.0" y2="2222.8"/>
<line x1="257" y1="2164.1" x2="273.0" y2="2164.1"/>
<line x1="257" y1="2105.3" x2="273.0" y2="2105.3"/>
<line x1="257" y1="2046.5" x2="273.0" y2="2046.5"/>
<line x1="257" y1="1987.8" x2="273.0" y2="1987.8"/>
<line x1="265" y1="2675.3" x2="273.0" y2="2675.3"/>
<line x1="265" y1="2665.0" x2="273.0" y2="2665.0"/>
<line x1="265" y1="2657.6" x2="273.0" y2="2657.6"/>
<line x1="265" y1="2651.9" x2="273.0" y2="2651.9"/>
<line x1="265" y1="2647.3" x2="273.0" y2="2647.3"/>
<line x1="265" y1="2643.3" x2="273.0" y2="2643.3"/>
<line x1="265" y1="2639.9" x2="273.0" y2="2639.9"/>
<line x1="265" y1="2636.9" x2="273.0" y2="2636.9"/>
<line x1="265" y1="2616.5" x2="273.0" y2="2616.5"/>
<line x1="265" y1="2606.2" x2="273.0" y2="2606.2"/>
<line x1="265" y1="2598.8" x2="273.0" y2="2598.8"/>
<line x1="265" y1="2593.2" x2="273.0" y2="2593.2"/>
<line x1="265" y1="2588.5" x2="273.0" y2="2588.5"/>
<line x1="265" y1="2584.6" x2="273.0" y2="2584.6"/>
<line x1="265" y1="2581.2" x2="273.0" y2="2581.2"/>
<line x1="265" y1="2578.2" x2="273.0" y2="2578.2"/>
<line x1="265" y1="2557.8" x2="273.0" y2="2557.8"/>
<line x1="265" y1="2547.4" x2="273.0" y2="2547.4"/>
<line x1="265" y1="2540.1" x2="273.0" y2="2540.1"/>
<line x1="265" y1="2534.4" x2="273.0" y2="2534.4"/>
<line x1="265" y1="2529.7" x2="273.0" y2="2529.7"/>
<line x1="265" y1="2525.8" x2="273.0" y2="2525.8"/>
<line x1="265" y1="2522.4" x2="273.0" y2="2522.4"/>
<line x1="265" y1="2519.4" x2="273.0" y2="2519.4"/>
<line x1="265" y1="2499.0" x2="273.0" y2="2499.0"/>
<line x1="265" y1="2488.7" x2="273.0" y2="2488.7"/>
<line x1="265" y1="2481.3" x2="273.0" y2="2481.3"/>
<line x1="265" y1="2475.6" x2="273.0" y2="2475.6"/>
<line x1="265" y1="2471.0" x2="273.0" y2="2471.0"/>
<line x1="265" y1="2467.0" x2="273.0" y2="2467.0"/>
<line x1="265" y1="2463.6" x2="273.0" y2="2463.6"/>
<line x1="265" y1="2460.6" x2="273.0" y2="2460.6"/>
<line x1="265" y1="2440.2" x2="273.0" y2="2440.2"/>
<line x1="265" y1="2429.9" x2="273.0" y2="2429.9"/>
<line x1="265" y1="2422.5" x2="273.0" y2="2422.5"/>
<line x1="265" y1="2416.8" x2="273.0" y2="2416.8"/>
<line x1="265" y1="2412.2" x2="273.0" y2="2412.2"/>
<line x1="265" y1="2408.3" x2="273.0" y2="2408.3"/>
<line x1="265" y1="2404.8" x2="273.0" y2="2404.8"/>
<line x1="265" y1="2401.8" x2="273.0" y2="2401.8"/>
<line x1="265" y1="2381.5" x2="273.0" y2="2381.5"/>
<line x1="265" y1="2371.1" x2="273.0" y2="2371.1"/>
<line x1="265" y1="2363.8" x2="273.0" y2="2363.8"/>
<line x1="265" y1="2358.1" x2="273.0" y2="2358.1"/>
<line x1="265" y1="2353.4" x2="273.0" y2="2353.4"/>
<line x1="265" y1="2349.5" x2="273.0" y2="2349.5"/>
<line x1="265" y1="2346.1" x2="273.0" y2="2346.1"/>
<line x1="265" y1="2343.1" x2="273.0" y2="2343.1"/>
<line x1="265" y1="2322.7" x2="273.0" y2="2322.7"/>
<line x1="265" y1="2312.3" x2="273.0" y2="2312.3"/>
<line x1="265" y1="2305.0" x2="273.0" y2="2305.0"/>
<line x1="265" y1="2299.3" x2="273.0" y2="2299.3"/>
<line x1="265" y1="2294.7" x2="273.0" y2="2294.7"/>
<line x1="265" y1="2290.7" x2="273.0" y2="2290.7"/>
<line x1="265" y1="2287.3" x2="273.0" y2="2287.3"/>
<line x1="265" y1="2284.3" x2="273.0" y2="2284.3"/>
<line x1="265" y1="2263.9" x2="273.0" y2="2263.9"/>
<line x1="265" y1="2253.6" x2="273.0" y2="2253.6"/>
<line x1="265" y1="2246.2" x2="273.0" y2="2246.2"/>
<line x1="265" y1="2240.5" x2="273.0" y2="2240.5"/>
<line x1="265" y1="2235.9" x2="273.0" y2="2235.9"/>
<line x1="265" y1="2231.9" x2="273.0" y2="2231.9"/>
<line x1="265" y1="2228.5" x2="273.0" y2="2228.5"/>
<line x1="265" y1="2225.5" x2="273.0" y2="2225.5"/>
<line x1="265" y1="2205.2" x2="273.0" y2="2205.2"/>
<line x1="265" y1="2194.8" x2="273.0" y2="2194.8"/>
<line x1="265" y1="2187.5" x2="273.0" y2="2187.5"/>
<line x1="265" y1="2181.8" x2="273.0" y2="2181.8"/>
<line x1="265" y1="2177.1" x2="273.0" y2="2177.1"/>
<line x1="265" y1="2173.2" x2="273.0" y2="2173.2"/>
<line x1="265" y1="2169.8" x2="273.0" y2="2169.8"/>
<line x1="265" y1="2166.8" x2="273.0" y2="2166.8"/>
<line x1="265" y1="2146.4" x2="273.0" y2="2146.4"/>
<line x1="265" y1="2136.0" x2="273.0" y2="2136.0"/>
<line x1="265" y1="2128.7" x2="273.0" y2="2128.7"/>
<line x1="265" y1="2123.0" x2="273.0" y2="2123.0"/>
<line x1="265" y1="2118.3" x2="273.0" y2="2118.3"/>
<line x1="265" y1="2114.4" x2="273.0" y2="2114.4"/>
<line x1="265" y1="2111.0" x2="273.0" y2="2111.0"/>
<line x1="265" y1="2108.0" x2="273.0" y2="2108.0"/>
<line x1="265" y1="2087.6" x2="273.0" y2="2087.6"/>
<line x1="265" y1="2077.3" x2="273.0" y2="2077.3"/>
<line x1="265" y1="2069.9" x2="273.0" y2="2069.9"/>
<line x1="265" y1="2064.2" x2="273.0" y2="2064.2"/>
<line x1="265" y1="2059.6" x2="273.0" y2="2059.6"/>
<line x1="265" y1="2055.6" x2="273.0" y2="2055.6"/>
<line x1="265" y1="2052.2" x2="273.0" y2="2052.2"/>
<line x1="265" y1="2049.2" x2="273.0" y2="2049.2"/>
<line x1="265" y1="2028.8" x2="273.0" y2="2028.8"/>
<line x1="265" y1="2018.5" x2="273.0" y2="2018.5"/>
<line x1="265" y1="2011.2" x2="273.0" y2="2011.2"/>
<line x1="265" y1="2005.5" x2="273.0" y2="2005.5"/>
<line x1="265" y1="2000.8" x2="273.0" y2="2000.8"/>
<line x1="265" y1="1996.9" x2="273.0" y2="1996.9"/>
<line x1="265" y1="1993.5" x2="273.0" y2="1993.5"/>
<line x1="265" y1="1990.5" x2="273.0" y2="1990.5"/>
<line x1="265" y1="1970.1" x2="273.0" y2="1970.1"/>
<line x1="265" y1="1959.7" x2="273.0" y2="1959.7"/>
<line x1="265" y1="1952.4" x2="273.0" y2="1952.4"/>
<line x1="265" y1="1946.7" x2="273.0" y2="1946.7"/>
<line x1="265" y1="1942.0" x2="273.0" y2="1942.0"/>
<line x1="265" y1="1938.1" x2="273.0" y2="1938.1"/>
<line x1="265" y1="1934.7" x2="273.0" y2="1934.7"/>
<line x1="265" y1="1931.7" x2="273.0" y2="1931.7"/>
<line x1="681.4" y1="2693.0" x2="681.4" y2="2711.0"/>
<line x1="1089.8" y1="2693.0" x2="1089.8" y2="2711.0"/>
<line x1="1498.2" y1="2693.0" x2="1498.2" y2="2711.0"/>
<line x1="1906.6" y1="2693.0" x2="1906.6" y2="2711.0"/>
<line x1="477.2" y1="2693.0" x2="477.2" y2="2702.5" stroke-width="5"/>
<line x1="885.6" y1="2693.0" x2="885.6" y2="2702.5" stroke-width="5"/>
<line x1="1294.0" y1="2693.0" x2="1294.0" y2="2702.5" stroke-width="5"/>
<line x1="1702.4" y1="2693.0" x2="1702.4" y2="2702.5" stroke-width="5"/>
<line x1="2110.8" y1="2693.0" x2="2110.8" y2="2702.5" stroke-width="5"/>
</g>
<text x="245.5" y="2008.1" text-anchor="end" font-size="69.5">10<tspan font-size="47" dy="-26">-3</tspan></text>
<text x="245.5" y="2125.6" text-anchor="end" font-size="69.5">10<tspan font-size="47" dy="-26">-5</tspan></text>
<text x="245.5" y="2243.1" text-anchor="end" font-size="69.5">10<tspan font-size="47" dy="-26">-7</tspan></text>
<text x="245.5" y="2360.7" text-anchor="end" font-size="69.5">10<tspan font-size="47" dy="-26">-9</tspan></text>
<text x="245.5" y="2478.2" text-anchor="end" font-size="69.5">10<tspan font-size="47" dy="-26">-</tspan><tspan font-size="47" dx="-1.8">1</tspan><tspan font-size="47" dx="-1.2">1</tspan></text>
<text x="245.5" y="2595.8" text-anchor="end" font-size="69.5">10<tspan font-size="47" dy="-26">-</tspan><tspan font-size="47" dx="-1.8">1</tspan><tspan font-size="47" dx="-1.2">3</tspan></text>
<text x="245.5" y="2713.3" text-anchor="end" font-size="69.5">10<tspan font-size="47" dy="-26">-</tspan><tspan font-size="47" dx="-1.8">1</tspan><tspan font-size="47" dx="-1.2">5</tspan></text>
<text x="273.0" y="2767.2" text-anchor="middle" font-size="69.5">0</text>
<text x="681.4" y="2767.2" text-anchor="middle" font-size="69.5">100</text>
<text x="1089.8" y="2767.2" text-anchor="middle" font-size="69.5">200</text>
<text x="1498.2" y="2767.2" text-anchor="middle" font-size="69.5">300</text>
<text x="1906.6" y="2767.2" text-anchor="middle" font-size="69.5">400</text>
<text x="2315.0" y="2767.2" text-anchor="middle" font-size="69.5">500</text>
<text x="1293.8" y="2827.0" text-anchor="middle" font-size="69" textLength="455" lengthAdjust="spacingAndGlyphs">Frequency (Hz)</text>
<text transform="translate(98.5,2310.3) rotate(-90)" text-anchor="middle" font-size="69" textLength="581" lengthAdjust="spacingAndGlyphs">Acoustic power (W)</text>
<text x="45.98" y="1975.2" font-size="67" transform="translate(45.98,0) scale(0.940,1) translate(-45.98,0)">(<tspan font-weight="bold">c</tspan>)</text>
<line x1="1535" y1="2450.0" x2="1689" y2="2450.0" stroke="#000" stroke-width="10" stroke-linecap="round"/>
<line x1="1534.7" y1="2534.0" x2="1670" y2="2534.0" stroke="#0000ff" stroke-width="10" stroke-linecap="round" stroke-dasharray="18 20.6"/>
<line x1="1534.5" y1="2630.0" x2="1690" y2="2630.0" stroke="#ff0000" stroke-width="9.6" stroke-linecap="round" stroke-dasharray="6.6 12.05"/>
<text x="1702.8" y="2471.3" font-size="59" transform="translate(1702.8,0) scale(1.0623,1) translate(-1702.8,0)">ML plate</text>
<text x="1706.1" y="2555.4" font-size="59" transform="translate(1706.1,0) scale(1.0510,1) translate(-1706.1,0)">LR plate with</text>
<text x="2067.5" y="2555.4" font-size="59" font-style="italic" transform="translate(2067.5,0) scale(1.1,1) translate(-2067.5,0)">&#951;</text>
<text x="2098.0" y="2570.8" font-size="39" transform="translate(2098.0,0) scale(1.0300,1) translate(-2098.0,0)"><tspan font-style="italic">R</tspan>1,2</text>
<text x="2169.2" y="2555.4" font-size="59" transform="translate(0,2546.3) scale(1,0.733) translate(0,-2546.3)">=</text>
<text x="2199.2" y="2555.4" font-size="59" letter-spacing="-0.8">0</text>
<text x="1706.1" y="2651.4" font-size="59" transform="translate(1706.1,0) scale(1.0510,1) translate(-1706.1,0)">LR plate with</text>
<text x="2067.5" y="2651.4" font-size="59" font-style="italic" transform="translate(2067.5,0) scale(1.1,1) translate(-2067.5,0)">&#951;</text>
<text x="2098.0" y="2666.8" font-size="39" transform="translate(2098.0,0) scale(1.0300,1) translate(-2098.0,0)"><tspan font-style="italic">R</tspan>1,2</text>
<text x="2169.2" y="2651.4" font-size="59" transform="translate(0,2642.3) scale(1,0.733) translate(0,-2642.3)">=</text>
<text x="2199.2" y="2651.4" font-size="59" letter-spacing="-0.8">0.05</text>
<text x="1226.8" y="153.3" font-size="67" textLength="97.5" lengthAdjust="spacingAndGlyphs">304</text>
<text x="1334.5" y="153.3" font-size="67" transform="translate(1334.5,0) scale(1.09,1) translate(-1334.5,0)">Hz</text>
<path d="M1414.5,134.5 Q1450,148 1495,166.5" fill="none" stroke="#000" stroke-width="6.6"/>
<path d="M1512.5,174.8 L1475.5,146.5 L1479.5,160.5 L1464.5,169.8 Z" fill="#000" stroke="#000" stroke-width="4" stroke-linejoin="round"/>
</svg></body></html>
